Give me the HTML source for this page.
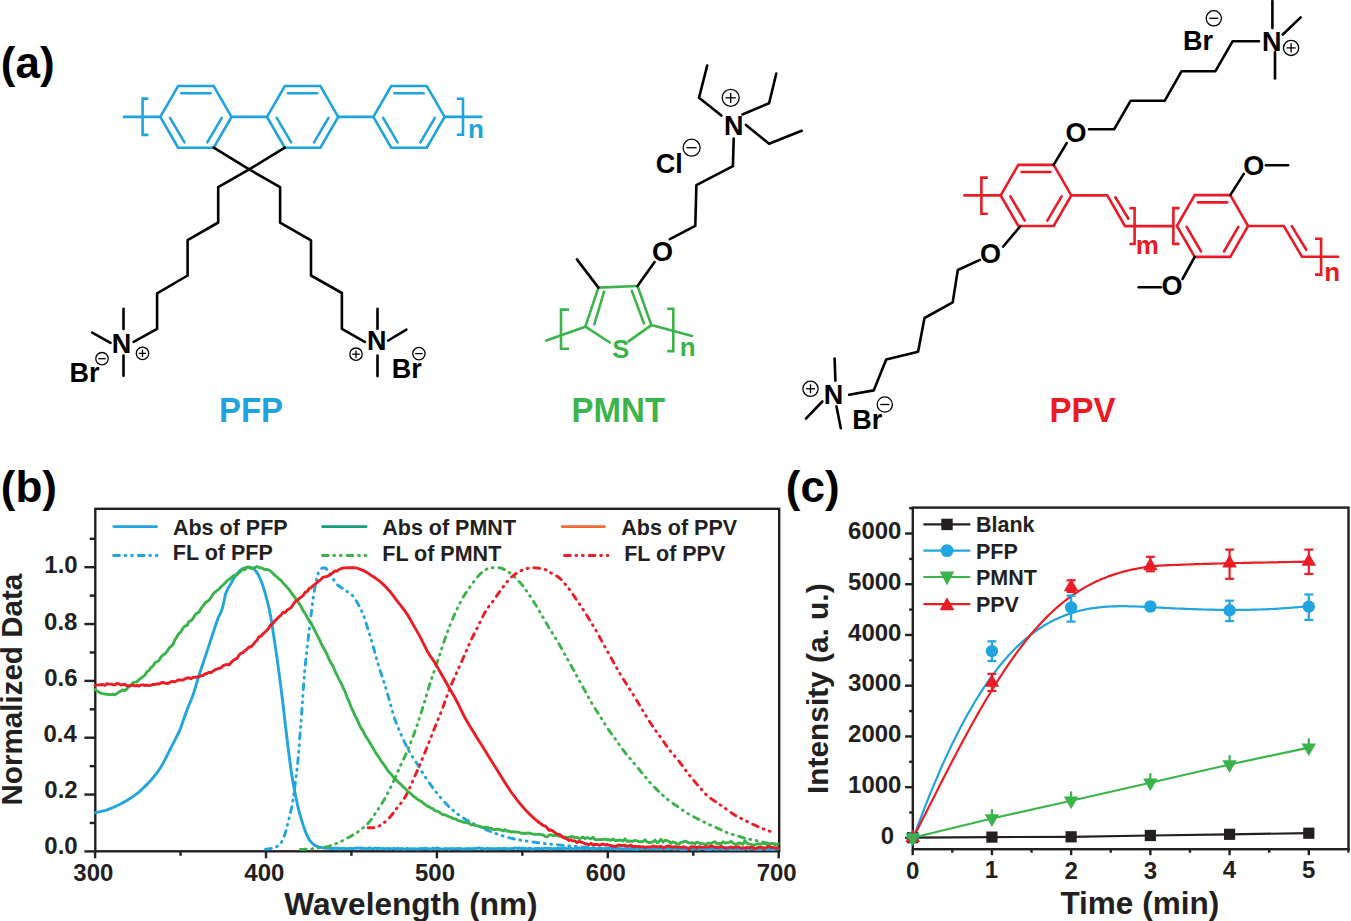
<!DOCTYPE html>
<html><head><meta charset="utf-8"><style>
html,body{margin:0;padding:0;background:#fff;width:1351px;height:921px;overflow:hidden}
svg{display:block}
</style></head><body>
<svg width="1351" height="921" viewBox="0 0 1351 921" font-family="'Liberation Sans', sans-serif" font-weight="bold">
<rect width="1351" height="921" fill="#fff"/>
<text x="0.81" y="78.28" font-size="44" fill="#000" >(a)</text>
<polygon points="160.30,116.90 178.10,86.07 213.70,86.07 231.50,116.90 213.70,147.73 178.10,147.73" fill="none" stroke="#1FA3DE" stroke-width="2.6" stroke-linejoin="miter" stroke-linecap="round"/>
<line x1="181.26" y1="93.23" x2="210.54" y2="93.23" stroke="#1FA3DE" stroke-width="2.6" stroke-linecap="round" />
<line x1="170.03" y1="117.80" x2="184.47" y2="142.37" stroke="#1FA3DE" stroke-width="2.6" stroke-linecap="round" />
<line x1="221.77" y1="117.80" x2="207.33" y2="142.37" stroke="#1FA3DE" stroke-width="2.6" stroke-linecap="round" />
<polygon points="267.00,116.90 284.80,86.07 320.40,86.07 338.20,116.90 320.40,147.73 284.80,147.73" fill="none" stroke="#1FA3DE" stroke-width="2.6" stroke-linejoin="miter" stroke-linecap="round"/>
<line x1="287.96" y1="93.23" x2="317.24" y2="93.23" stroke="#1FA3DE" stroke-width="2.6" stroke-linecap="round" />
<line x1="276.73" y1="117.80" x2="291.17" y2="142.37" stroke="#1FA3DE" stroke-width="2.6" stroke-linecap="round" />
<line x1="328.47" y1="117.80" x2="314.03" y2="142.37" stroke="#1FA3DE" stroke-width="2.6" stroke-linecap="round" />
<polygon points="373.40,116.90 391.20,86.07 426.80,86.07 444.60,116.90 426.80,147.73 391.20,147.73" fill="none" stroke="#1FA3DE" stroke-width="2.6" stroke-linejoin="miter" stroke-linecap="round"/>
<line x1="394.36" y1="93.23" x2="423.64" y2="93.23" stroke="#1FA3DE" stroke-width="2.6" stroke-linecap="round" />
<line x1="383.13" y1="117.80" x2="397.57" y2="142.37" stroke="#1FA3DE" stroke-width="2.6" stroke-linecap="round" />
<line x1="434.87" y1="117.80" x2="420.43" y2="142.37" stroke="#1FA3DE" stroke-width="2.6" stroke-linecap="round" />
<line x1="231.50" y1="116.90" x2="267.00" y2="116.90" stroke="#1FA3DE" stroke-width="2.6" stroke-linecap="round" />
<line x1="338.20" y1="116.90" x2="373.40" y2="116.90" stroke="#1FA3DE" stroke-width="2.6" stroke-linecap="round" />
<line x1="124.00" y1="116.90" x2="160.30" y2="116.90" stroke="#1FA3DE" stroke-width="2.6" stroke-linecap="round" />
<line x1="444.60" y1="116.90" x2="481.30" y2="116.90" stroke="#1FA3DE" stroke-width="2.6" stroke-linecap="round" />
<polyline points="148.40,98.60 142.60,98.60 142.60,134.90 148.40,134.90" fill="none" stroke="#1FA3DE" stroke-width="2.6" stroke-linejoin="miter" stroke-linecap="butt"/>
<polyline points="456.80,98.80 463.00,98.80 463.00,134.80 456.80,134.80" fill="none" stroke="#1FA3DE" stroke-width="2.6" stroke-linejoin="miter" stroke-linecap="butt"/>
<text x="467.99" y="138.20" font-size="26" fill="#1FA3DE" >n</text>
<polyline points="213.70,147.73 249.20,169.40 284.80,147.73" fill="none" stroke="#000" stroke-width="2.6" stroke-linejoin="round" stroke-linecap="round"/>
<polyline points="249.20,169.40 218.20,187.10 218.20,222.50 187.60,240.10 187.60,275.50 157.10,293.40 157.10,328.80 133.60,341.80" fill="none" stroke="#000" stroke-width="2.6" stroke-linejoin="round" stroke-linecap="round"/>
<polyline points="249.20,169.40 280.10,187.10 280.10,222.70 311.00,240.30 311.00,275.50 341.90,293.00 341.90,328.80 364.80,341.90" fill="none" stroke="#000" stroke-width="2.6" stroke-linejoin="round" stroke-linecap="round"/>
<text transform="translate(111.79,352.62) scale(1,1.04)" font-size="27" fill="#000" >N</text>
<line x1="123.50" y1="308.70" x2="123.50" y2="329.10" stroke="#000" stroke-width="2.6" stroke-linecap="round" />
<line x1="123.50" y1="355.60" x2="123.50" y2="375.70" stroke="#000" stroke-width="2.6" stroke-linecap="round" />
<line x1="92.20" y1="332.60" x2="110.50" y2="342.90" stroke="#000" stroke-width="2.6" stroke-linecap="round" />
<text x="69.49" y="382.48" font-size="27" fill="#000" >Br</text>
<circle cx="102.00" cy="358.70" r="6.2" fill="none" stroke="#000" stroke-width="1.3"/>
<line x1="98.28" y1="358.70" x2="105.72" y2="358.70" stroke="#000" stroke-width="1.3" stroke-linecap="butt" />
<circle cx="142.50" cy="353.40" r="6.2" fill="none" stroke="#000" stroke-width="1.3"/>
<line x1="138.78" y1="353.40" x2="146.22" y2="353.40" stroke="#000" stroke-width="1.3" stroke-linecap="butt" />
<line x1="142.50" y1="349.68" x2="142.50" y2="357.12" stroke="#000" stroke-width="1.3" stroke-linecap="butt" />
<text transform="translate(366.89,349.72) scale(1,1.04)" font-size="27" fill="#000" >N</text>
<line x1="377.50" y1="308.70" x2="377.50" y2="328.80" stroke="#000" stroke-width="2.6" stroke-linecap="round" />
<line x1="377.50" y1="355.60" x2="377.50" y2="376.10" stroke="#000" stroke-width="2.6" stroke-linecap="round" />
<line x1="388.20" y1="340.50" x2="406.40" y2="329.60" stroke="#000" stroke-width="2.6" stroke-linecap="round" />
<text x="391.69" y="378.28" font-size="27" fill="#000" >Br</text>
<circle cx="418.90" cy="353.60" r="6.2" fill="none" stroke="#000" stroke-width="1.3"/>
<line x1="415.18" y1="353.60" x2="422.62" y2="353.60" stroke="#000" stroke-width="1.3" stroke-linecap="butt" />
<circle cx="356.00" cy="354.20" r="6.2" fill="none" stroke="#000" stroke-width="1.3"/>
<line x1="352.28" y1="354.20" x2="359.72" y2="354.20" stroke="#000" stroke-width="1.3" stroke-linecap="butt" />
<line x1="356.00" y1="350.48" x2="356.00" y2="357.92" stroke="#000" stroke-width="1.3" stroke-linecap="butt" />
<text transform="translate(218.89,422.11) scale(1,1.04)" font-size="33" fill="#1FA3DE" >PFP</text>
<line x1="598.40" y1="287.60" x2="637.50" y2="286.00" stroke="#3BB44A" stroke-width="2.6" stroke-linecap="round" />
<line x1="598.40" y1="287.60" x2="585.40" y2="326.70" stroke="#3BB44A" stroke-width="2.6" stroke-linecap="round" />
<line x1="637.50" y1="286.00" x2="651.40" y2="325.10" stroke="#3BB44A" stroke-width="2.6" stroke-linecap="round" />
<line x1="585.40" y1="326.70" x2="609.80" y2="342.50" stroke="#3BB44A" stroke-width="2.6" stroke-linecap="round" />
<line x1="651.40" y1="325.10" x2="628.50" y2="341.40" stroke="#3BB44A" stroke-width="2.6" stroke-linecap="round" />
<line x1="604.10" y1="291.70" x2="594.30" y2="324.30" stroke="#3BB44A" stroke-width="2.6" stroke-linecap="round" />
<line x1="631.80" y1="290.90" x2="644.00" y2="323.40" stroke="#3BB44A" stroke-width="2.6" stroke-linecap="round" />
<line x1="585.40" y1="326.70" x2="546.30" y2="340.50" stroke="#3BB44A" stroke-width="2.6" stroke-linecap="round" />
<line x1="651.40" y1="325.10" x2="692.10" y2="336.00" stroke="#3BB44A" stroke-width="2.6" stroke-linecap="round" />
<polyline points="569.00,309.60 561.00,309.60 561.00,348.70 569.00,348.70" fill="none" stroke="#3BB44A" stroke-width="2.6" stroke-linejoin="miter" stroke-linecap="butt"/>
<polyline points="667.20,308.80 673.30,308.80 673.30,351.10 667.20,351.10" fill="none" stroke="#3BB44A" stroke-width="2.6" stroke-linejoin="miter" stroke-linecap="butt"/>
<text transform="translate(612.27,357.62) scale(1,1.04)" font-size="25.5" fill="#3BB44A" >S</text>
<text x="679.79" y="355.60" font-size="26" fill="#3BB44A" >n</text>
<line x1="598.40" y1="287.60" x2="576.90" y2="259.40" stroke="#000" stroke-width="2.6" stroke-linecap="round" />
<line x1="637.50" y1="286.00" x2="654.60" y2="262.00" stroke="#000" stroke-width="2.6" stroke-linecap="round" />
<text transform="translate(651.89,260.71) scale(1,1.04)" font-size="27" fill="#000" >O</text>
<polyline points="669.80,239.20 695.30,225.90 696.40,185.10 732.90,166.20 733.70,138.60" fill="none" stroke="#000" stroke-width="2.6" stroke-linejoin="round" stroke-linecap="round"/>
<text transform="translate(723.89,134.72) scale(1,1.04)" font-size="27" fill="#000" >N</text>
<circle cx="730.70" cy="97.80" r="8.5" fill="none" stroke="#000" stroke-width="1.3"/>
<line x1="725.60" y1="97.80" x2="735.80" y2="97.80" stroke="#000" stroke-width="1.3" stroke-linecap="butt" />
<line x1="730.70" y1="92.70" x2="730.70" y2="102.90" stroke="#000" stroke-width="1.3" stroke-linecap="butt" />
<polyline points="721.40,115.60 699.00,97.80 707.20,65.60" fill="none" stroke="#000" stroke-width="2.6" stroke-linejoin="round" stroke-linecap="round"/>
<polyline points="742.40,114.50 769.10,103.20 776.30,73.50" fill="none" stroke="#000" stroke-width="2.6" stroke-linejoin="round" stroke-linecap="round"/>
<polyline points="745.90,124.90 769.10,143.80 801.70,130.80" fill="none" stroke="#000" stroke-width="2.6" stroke-linejoin="round" stroke-linecap="round"/>
<text x="655.79" y="172.96" font-size="27" fill="#000" >Cl</text>
<circle cx="691.60" cy="147.70" r="8.5" fill="none" stroke="#000" stroke-width="1.3"/>
<line x1="686.50" y1="147.70" x2="696.70" y2="147.70" stroke="#000" stroke-width="1.3" stroke-linecap="butt" />
<text transform="translate(571.59,422.11) scale(1,1.04)" font-size="33" fill="#3BB44A" >PMNT</text>
<polygon points="1000.70,195.40 1018.35,164.83 1053.65,164.83 1071.30,195.40 1053.65,225.97 1018.35,225.97" fill="none" stroke="#EA1B25" stroke-width="2.6" stroke-linejoin="miter" stroke-linecap="round"/>
<line x1="1021.48" y1="171.93" x2="1050.52" y2="171.93" stroke="#EA1B25" stroke-width="2.6" stroke-linecap="round" />
<line x1="1010.35" y1="196.29" x2="1024.66" y2="220.66" stroke="#EA1B25" stroke-width="2.6" stroke-linecap="round" />
<line x1="1061.65" y1="196.29" x2="1047.34" y2="220.66" stroke="#EA1B25" stroke-width="2.6" stroke-linecap="round" />
<polygon points="1176.90,226.00 1194.70,195.17 1230.30,195.17 1248.10,226.00 1230.30,256.83 1194.70,256.83" fill="none" stroke="#EA1B25" stroke-width="2.6" stroke-linejoin="miter" stroke-linecap="round"/>
<line x1="1197.86" y1="202.33" x2="1227.14" y2="202.33" stroke="#EA1B25" stroke-width="2.6" stroke-linecap="round" />
<line x1="1186.63" y1="226.90" x2="1201.07" y2="251.47" stroke="#EA1B25" stroke-width="2.6" stroke-linecap="round" />
<line x1="1238.37" y1="226.90" x2="1223.93" y2="251.47" stroke="#EA1B25" stroke-width="2.6" stroke-linecap="round" />
<line x1="964.40" y1="195.40" x2="1000.70" y2="195.40" stroke="#EA1B25" stroke-width="2.6" stroke-linecap="round" />
<polyline points="987.80,177.60 981.40,177.60 981.40,213.80 987.80,213.80" fill="none" stroke="#EA1B25" stroke-width="2.6" stroke-linejoin="miter" stroke-linecap="butt"/>
<polyline points="1071.30,195.40 1107.30,195.40 1125.00,226.10 1172.50,226.10" fill="none" stroke="#EA1B25" stroke-width="2.6" stroke-linejoin="miter" stroke-linecap="round"/>
<line x1="1115.30" y1="197.30" x2="1128.40" y2="218.70" stroke="#EA1B25" stroke-width="2.6" stroke-linecap="round" />
<polyline points="1129.40,208.20 1134.60,208.20 1134.60,244.00 1129.40,244.00" fill="none" stroke="#EA1B25" stroke-width="2.6" stroke-linejoin="miter" stroke-linecap="butt"/>
<text x="1135.69" y="254.20" font-size="26" fill="#EA1B25" >m</text>
<polyline points="1179.50,208.10 1173.40,208.10 1173.40,243.90 1179.50,243.90" fill="none" stroke="#EA1B25" stroke-width="2.6" stroke-linejoin="miter" stroke-linecap="butt"/>
<polyline points="1248.10,226.00 1283.80,226.00 1302.00,256.70 1338.10,256.70" fill="none" stroke="#EA1B25" stroke-width="2.6" stroke-linejoin="miter" stroke-linecap="round"/>
<line x1="1291.80" y1="226.10" x2="1306.30" y2="249.80" stroke="#EA1B25" stroke-width="2.6" stroke-linecap="round" />
<polyline points="1315.00,238.70 1321.10,238.70 1321.10,274.60 1315.00,274.60" fill="none" stroke="#EA1B25" stroke-width="2.6" stroke-linejoin="miter" stroke-linecap="butt"/>
<text x="1324.29" y="281.00" font-size="26" fill="#EA1B25" >n</text>
<line x1="1053.65" y1="164.83" x2="1066.70" y2="143.10" stroke="#000" stroke-width="2.6" stroke-linecap="round" />
<text transform="translate(1065.59,141.91) scale(1,1.04)" font-size="27" fill="#000" >O</text>
<polyline points="1089.00,129.20 1114.20,129.20 1130.70,100.70 1164.80,100.70 1181.50,71.30 1215.30,71.30 1232.70,41.20 1259.00,41.20" fill="none" stroke="#000" stroke-width="2.6" stroke-linejoin="round" stroke-linecap="round"/>
<text transform="translate(1262.09,50.72) scale(1,1.04)" font-size="27" fill="#000" >N</text>
<line x1="1272.40" y1="1.10" x2="1272.40" y2="27.90" stroke="#000" stroke-width="2.6" stroke-linecap="round" />
<line x1="1275.00" y1="52.40" x2="1275.00" y2="78.40" stroke="#000" stroke-width="2.6" stroke-linecap="round" />
<line x1="1282.80" y1="34.50" x2="1300.70" y2="17.40" stroke="#000" stroke-width="2.6" stroke-linecap="round" />
<circle cx="1291.10" cy="47.90" r="7.6" fill="none" stroke="#000" stroke-width="1.3"/>
<line x1="1286.54" y1="47.90" x2="1295.66" y2="47.90" stroke="#000" stroke-width="1.3" stroke-linecap="butt" />
<line x1="1291.10" y1="43.34" x2="1291.10" y2="52.46" stroke="#000" stroke-width="1.3" stroke-linecap="butt" />
<text x="1182.99" y="49.98" font-size="27" fill="#000" >Br</text>
<circle cx="1213.80" cy="18.30" r="7.6" fill="none" stroke="#000" stroke-width="1.3"/>
<line x1="1209.24" y1="18.30" x2="1218.36" y2="18.30" stroke="#000" stroke-width="1.3" stroke-linecap="butt" />
<line x1="1019.85" y1="226.77" x2="1003.20" y2="246.50" stroke="#000" stroke-width="2.6" stroke-linecap="round" />
<text transform="translate(979.89,263.11) scale(1,1.04)" font-size="27" fill="#000" >O</text>
<polyline points="979.90,259.90 957.80,270.00 952.70,302.40 924.50,318.00 918.10,351.70 886.20,359.50 873.70,390.40 849.10,394.70" fill="none" stroke="#000" stroke-width="2.6" stroke-linejoin="round" stroke-linecap="round"/>
<text transform="translate(823.79,404.42) scale(1,1.04)" font-size="27" fill="#000" >N</text>
<line x1="834.60" y1="358.50" x2="835.40" y2="380.60" stroke="#000" stroke-width="2.6" stroke-linecap="round" />
<line x1="836.50" y1="406.40" x2="840.80" y2="428.30" stroke="#000" stroke-width="2.6" stroke-linecap="round" />
<line x1="822.30" y1="401.50" x2="806.00" y2="418.60" stroke="#000" stroke-width="2.6" stroke-linecap="round" />
<circle cx="810.50" cy="388.80" r="7.6" fill="none" stroke="#000" stroke-width="1.3"/>
<line x1="805.94" y1="388.80" x2="815.06" y2="388.80" stroke="#000" stroke-width="1.3" stroke-linecap="butt" />
<line x1="810.50" y1="384.24" x2="810.50" y2="393.36" stroke="#000" stroke-width="1.3" stroke-linecap="butt" />
<text x="852.29" y="429.48" font-size="27" fill="#000" >Br</text>
<circle cx="884.80" cy="404.50" r="7.6" fill="none" stroke="#000" stroke-width="1.3"/>
<line x1="880.24" y1="404.50" x2="889.36" y2="404.50" stroke="#000" stroke-width="1.3" stroke-linecap="butt" />
<line x1="1230.30" y1="195.17" x2="1243.80" y2="173.90" stroke="#000" stroke-width="2.6" stroke-linecap="round" />
<text transform="translate(1243.19,175.11) scale(1,1.04)" font-size="27" fill="#000" >O</text>
<line x1="1265.90" y1="165.20" x2="1288.10" y2="165.20" stroke="#000" stroke-width="2.6" stroke-linecap="round" />
<line x1="1194.70" y1="256.83" x2="1182.50" y2="279.00" stroke="#000" stroke-width="2.6" stroke-linecap="round" />
<text transform="translate(1161.59,295.01) scale(1,1.04)" font-size="27" fill="#000" >O</text>
<line x1="1138.70" y1="287.30" x2="1160.90" y2="287.30" stroke="#000" stroke-width="2.6" stroke-linecap="round" />
<text transform="translate(1049.59,422.11) scale(1,1.04)" font-size="33" fill="#EA1B25" >PPV</text>
<text x="0.81" y="501.78" font-size="44" fill="#000" >(b)</text>
<rect x="95.3" y="508.8" width="683.9000000000001" height="342.49999999999994" fill="none" stroke="#231F20" stroke-width="2.4"/>
<line x1="84.40" y1="851.40" x2="95.30" y2="851.40" stroke="#231F20" stroke-width="2.4" stroke-linecap="butt" />
<line x1="89.70" y1="822.98" x2="95.30" y2="822.98" stroke="#231F20" stroke-width="2.4" stroke-linecap="butt" />
<line x1="84.40" y1="794.56" x2="95.30" y2="794.56" stroke="#231F20" stroke-width="2.4" stroke-linecap="butt" />
<line x1="89.70" y1="766.14" x2="95.30" y2="766.14" stroke="#231F20" stroke-width="2.4" stroke-linecap="butt" />
<line x1="84.40" y1="737.72" x2="95.30" y2="737.72" stroke="#231F20" stroke-width="2.4" stroke-linecap="butt" />
<line x1="89.70" y1="709.30" x2="95.30" y2="709.30" stroke="#231F20" stroke-width="2.4" stroke-linecap="butt" />
<line x1="84.40" y1="680.88" x2="95.30" y2="680.88" stroke="#231F20" stroke-width="2.4" stroke-linecap="butt" />
<line x1="89.70" y1="652.46" x2="95.30" y2="652.46" stroke="#231F20" stroke-width="2.4" stroke-linecap="butt" />
<line x1="84.40" y1="624.04" x2="95.30" y2="624.04" stroke="#231F20" stroke-width="2.4" stroke-linecap="butt" />
<line x1="89.70" y1="595.62" x2="95.30" y2="595.62" stroke="#231F20" stroke-width="2.4" stroke-linecap="butt" />
<line x1="84.40" y1="567.20" x2="95.30" y2="567.20" stroke="#231F20" stroke-width="2.4" stroke-linecap="butt" />
<line x1="89.70" y1="538.78" x2="95.30" y2="538.78" stroke="#231F20" stroke-width="2.4" stroke-linecap="butt" />
<text x="44.32" y="854.16" font-size="24" fill="#231F20" >0.0</text>
<text x="44.30" y="798.16" font-size="24" fill="#231F20" >0.2</text>
<text x="43.47" y="742.26" font-size="24" fill="#231F20" >0.4</text>
<text x="44.20" y="686.26" font-size="24" fill="#231F20" >0.6</text>
<text x="44.08" y="629.66" font-size="24" fill="#231F20" >0.8</text>
<text x="44.32" y="573.26" font-size="24" fill="#231F20" >1.0</text>
<line x1="95.10" y1="851.30" x2="95.10" y2="858.30" stroke="#231F20" stroke-width="2.4" stroke-linecap="butt" />
<text x="73.30" y="881.16" font-size="24" fill="#231F20" >300</text>
<line x1="180.55" y1="851.30" x2="180.55" y2="855.80" stroke="#231F20" stroke-width="2.4" stroke-linecap="butt" />
<line x1="266.00" y1="851.30" x2="266.00" y2="858.30" stroke="#231F20" stroke-width="2.4" stroke-linecap="butt" />
<text x="244.29" y="881.16" font-size="24" fill="#231F20" >400</text>
<line x1="351.45" y1="851.30" x2="351.45" y2="855.80" stroke="#231F20" stroke-width="2.4" stroke-linecap="butt" />
<line x1="436.90" y1="851.30" x2="436.90" y2="858.30" stroke="#231F20" stroke-width="2.4" stroke-linecap="butt" />
<text x="415.00" y="881.16" font-size="24" fill="#231F20" >500</text>
<line x1="522.35" y1="851.30" x2="522.35" y2="855.80" stroke="#231F20" stroke-width="2.4" stroke-linecap="butt" />
<line x1="607.80" y1="851.30" x2="607.80" y2="858.30" stroke="#231F20" stroke-width="2.4" stroke-linecap="butt" />
<text x="585.83" y="881.16" font-size="24" fill="#231F20" >600</text>
<line x1="693.25" y1="851.30" x2="693.25" y2="855.80" stroke="#231F20" stroke-width="2.4" stroke-linecap="butt" />
<line x1="778.70" y1="851.30" x2="778.70" y2="858.30" stroke="#231F20" stroke-width="2.4" stroke-linecap="butt" />
<text x="756.66" y="881.16" font-size="24" fill="#231F20" >700</text>
<text x="284.27" y="914.50" font-size="31.6" fill="#231F20" >Wavelength (nm)</text>
<text transform="translate(21.7,803.6) rotate(-90)" x="-1.98" y="0" font-size="29.6" fill="#231F20">Normalized Data</text>
<line x1="113.80" y1="526.60" x2="156.60" y2="526.60" stroke="#21A5E0" stroke-width="2.7" stroke-linecap="round" />
<line x1="113.60" y1="555.50" x2="158.30" y2="555.50" stroke="#21A5E0" stroke-width="2.8" stroke-linecap="round" stroke-dasharray="5.8 5.6 0.9 5.6 0.9 5.9"/>
<line x1="322.50" y1="526.60" x2="366.10" y2="526.60" stroke="#12A07C" stroke-width="2.7" stroke-linecap="round" />
<line x1="322.40" y1="555.50" x2="367.40" y2="555.50" stroke="#3AB44A" stroke-width="2.8" stroke-linecap="round" stroke-dasharray="5.8 5.6 0.9 5.6 0.9 5.9"/>
<line x1="562.10" y1="526.60" x2="604.50" y2="526.60" stroke="#F26B3A" stroke-width="2.7" stroke-linecap="round" />
<line x1="564.50" y1="555.50" x2="608.30" y2="555.50" stroke="#EC1C24" stroke-width="2.8" stroke-linecap="round" stroke-dasharray="5.8 5.6 0.9 5.6 0.9 5.9"/>
<text x="172.96" y="534.78" font-size="21.5" fill="#231F20" >Abs of PFP</text>
<text x="172.86" y="560.38" font-size="21.5" fill="#231F20" >FL of PFP</text>
<text x="382.26" y="534.98" font-size="21.5" fill="#231F20" >Abs of PMNT</text>
<text x="382.26" y="560.58" font-size="21.5" fill="#231F20" >FL of PMNT</text>
<text x="621.26" y="534.98" font-size="21.5" fill="#231F20" >Abs of PPV</text>
<text x="624.16" y="560.58" font-size="21.5" fill="#231F20" >FL of PPV</text>
<g>
<path d="M95.0,812.6 L96.5,812.4 L98.0,812.1 L99.5,811.8 L101.0,811.4 L102.5,811.1 L104.0,810.7 L105.5,810.3 L107.0,809.8 L108.5,809.3 L110.0,808.7 L111.5,808.1 L113.0,807.5 L114.5,806.9 L116.0,806.2 L117.5,805.5 L119.0,804.8 L120.5,804.0 L122.0,803.2 L123.5,802.4 L125.0,801.6 L126.5,800.7 L128.0,799.8 L129.5,798.8 L131.0,797.9 L132.5,796.9 L134.0,795.8 L135.5,794.7 L137.0,793.6 L138.5,792.4 L140.0,791.1 L141.5,789.7 L143.0,788.3 L144.5,786.9 L146.0,785.4 L147.5,783.9 L149.0,782.3 L150.5,780.7 L152.0,778.9 L153.5,777.1 L155.0,775.3 L156.5,773.3 L158.0,771.3 L159.5,769.2 L161.0,766.9 L162.5,764.3 L164.0,761.6 L165.5,758.7 L167.0,755.7 L168.5,752.7 L170.0,749.7 L171.5,746.7 L173.0,743.8 L174.5,740.8 L176.0,737.9 L177.5,734.9 L179.0,731.9 L180.5,728.5 L182.0,724.2 L183.5,719.8 L185.0,715.5 L186.5,711.2 L188.0,707.3 L189.5,703.8 L191.0,700.3 L192.5,696.4 L194.0,691.9 L195.5,687.0 L197.0,681.9 L198.5,676.9 L200.0,672.2 L201.5,667.7 L203.0,663.3 L204.5,658.9 L206.0,654.4 L207.5,649.9 L209.0,645.4 L210.5,640.8 L212.0,636.3 L213.5,631.8 L215.0,627.1 L216.5,622.5 L218.0,618.3 L219.5,615.0 L221.0,612.1 L222.5,607.8 L224.0,601.4 L225.5,594.1 L227.0,590.4 L228.5,587.6 L230.0,585.2 L231.5,582.5 L233.0,579.8 L234.5,577.3 L236.0,575.2 L237.5,573.4 L239.0,571.6 L240.5,570.1 L242.0,569.0 L243.5,568.4 L245.0,567.8 L246.5,567.4 L248.0,567.3 L249.5,567.4 L251.0,567.5 L252.5,568.1 L254.0,569.3 L255.5,570.7 L257.0,572.7 L258.5,575.2 L260.0,578.3 L261.5,582.0 L263.0,586.1 L264.5,590.9 L266.0,596.3 L267.5,602.0 L269.0,608.1 L270.5,615.6 L272.0,624.3 L273.5,634.4 L275.0,644.5 L276.5,654.5 L278.0,665.2 L279.5,676.4 L281.0,688.1 L282.5,700.3 L284.0,713.0 L285.5,725.8 L287.0,738.4 L288.5,750.8 L290.0,762.5 L291.5,773.0 L293.0,782.2 L294.5,790.3 L296.0,797.8 L297.5,804.8 L299.0,811.1 L300.5,816.4 L302.0,821.3 L303.5,826.1 L305.0,830.5 L306.5,834.2 L308.0,837.5 L309.5,840.2 L311.0,842.0 L312.5,843.5 L314.0,844.8 L315.5,845.7 L317.0,846.3 L318.5,846.8 L320.0,847.2 L321.5,847.6 L323.0,847.8 L324.5,848.0 L326.0,848.1 L327.5,848.2 L329.0,848.3 L330.5,848.3 L332.0,848.5 L333.5,848.3 L335.0,848.2 L336.5,848.3 L338.0,848.2 L339.5,848.5 L341.0,849.0 L342.5,848.4 L344.0,848.3 L345.5,848.7 L347.0,848.7 L348.5,848.6 L350.0,848.2 L351.5,848.6 L353.0,848.8 L354.5,848.1 L356.0,848.4 L357.5,847.9 L359.0,848.2 L360.5,848.0 L362.0,848.5 L363.5,848.2 L365.0,848.7 L366.5,848.7 L368.0,848.6 L369.5,847.8 L371.0,848.5 L372.5,848.6 L374.0,848.7 L375.5,848.1 L377.0,848.5 L378.5,848.3 L380.0,848.4 L381.5,849.0 L383.0,848.4 L384.5,848.7 L386.0,849.0 L387.5,848.5 L389.0,848.6 L390.5,848.7 L392.0,848.7 L393.5,848.3 L395.0,848.7 L396.5,849.2 L398.0,848.2 L399.5,849.0 L401.0,848.7 L402.5,848.5 L404.0,849.4 L405.5,849.0 L407.0,848.3 L408.5,848.7 L410.0,848.9 L411.5,848.6 L413.0,848.9 L414.5,848.7 L416.0,848.9 L417.5,849.2 L419.0,848.5 L420.5,848.8 L422.0,848.5 L423.5,848.7 L425.0,848.3 L426.5,848.5 L428.0,848.6 L429.5,849.0 L431.0,849.1 L432.5,848.2 L434.0,848.4 L435.5,848.9 L437.0,848.0 L438.5,848.5 L440.0,848.7 L441.5,849.1 L443.0,848.9 L444.5,848.6 L446.0,848.6 L447.5,848.6 L449.0,849.2 L450.5,848.5 L452.0,848.6 L453.5,848.8 L455.0,848.6 L456.5,848.6 L458.0,848.3 L459.5,848.7 L461.0,848.5 L462.5,849.1 L464.0,848.9 L465.5,848.7 L467.0,848.9 L468.5,848.5 L470.0,849.0 L471.5,848.7 L473.0,848.9 L474.5,848.2 L476.0,848.8 L477.5,848.1 L479.0,847.9 L480.5,848.5 L482.0,848.3 L483.5,848.7 L485.0,849.4 L486.5,848.4 L488.0,848.4 L489.5,848.7 L491.0,848.8 L492.5,848.6 L494.0,848.6 L495.5,848.9 L497.0,848.8 L498.5,848.3 L500.0,848.6 L501.5,848.6 L503.0,848.3 L504.5,848.7 L506.0,848.3 L507.5,849.0 L509.0,848.7 L510.5,848.7 L512.0,848.4 L513.5,848.6 L515.0,847.9 L516.5,848.2 L518.0,848.7 L519.5,847.9 L521.0,848.9 L522.5,848.0 L524.0,848.9 L525.5,848.3 L527.0,848.9 L528.5,848.7 L530.0,848.1 L531.5,849.0 L533.0,849.1 L534.5,848.6 L536.0,848.5 L537.5,848.6 L539.0,848.3 L540.5,849.0 L542.0,848.4 L543.5,848.6 L545.0,848.3 L546.5,848.4 L548.0,848.2 L549.5,849.0 L551.0,848.5 L552.5,848.9 L554.0,848.6 L555.5,848.4 L557.0,848.5 L558.5,848.4 L560.0,848.6 L561.5,848.5 L563.0,848.5 L564.5,848.1 L566.0,848.3 L567.5,849.2 L569.0,848.4 L570.5,848.2 L572.0,848.7 L573.5,849.1 L575.0,848.1 L576.5,848.5 L578.0,848.4 L579.5,848.0 L581.0,848.9 L582.5,848.6 L584.0,848.6 L585.5,848.3 L587.0,848.8 L588.5,848.4 L590.0,848.6 L591.5,848.2 L593.0,848.2 L594.5,849.1 L596.0,848.4 L597.5,848.7 L599.0,848.6 L600.5,848.5 L602.0,848.4 L603.5,848.8 L605.0,848.5 L606.5,848.6 L608.0,848.6 L609.5,849.0 L611.0,848.9 L612.5,848.8 L614.0,848.4 L615.5,848.1 L617.0,849.0 L618.5,849.0 L620.0,848.6 L621.5,848.8 L623.0,848.9 L624.5,848.9 L626.0,849.0 L627.5,848.5 L629.0,849.2 L630.5,848.2 L632.0,849.0 L633.5,848.8 L635.0,849.0 L636.5,849.3 L638.0,849.2 L639.5,848.3 L641.0,848.1 L642.5,849.0 L644.0,848.3 L645.5,848.7 L647.0,849.0 L648.5,848.1 L650.0,847.9 L651.5,848.8 L653.0,848.7 L654.5,848.6 L656.0,848.7 L657.5,848.4 L659.0,848.2 L660.5,848.6 L662.0,848.4 L663.5,848.1 L665.0,848.9 L666.5,848.7 L668.0,848.8 L669.5,848.4 L671.0,848.5 L672.5,848.4 L674.0,848.4 L675.5,848.8 L677.0,848.5 L678.5,848.9 L680.0,848.9 L681.5,849.4 L683.0,848.3 L684.5,849.1 L686.0,848.7 L687.5,848.7 L689.0,848.2 L690.5,848.6 L692.0,849.0 L693.5,848.7 L695.0,848.8 L696.5,848.7 L698.0,849.2 L699.5,848.8 L701.0,848.0 L702.5,848.5 L704.0,848.1 L705.5,847.7 L707.0,848.6 L708.5,849.3 L710.0,848.8 L711.5,848.4 L713.0,848.5 L714.5,849.2 L716.0,848.9 L717.5,848.8 L719.0,848.8 L720.5,848.8 L722.0,849.1 L723.5,849.0 L725.0,848.9 L726.5,848.5 L728.0,849.0 L729.5,848.6 L731.0,849.2 L732.5,848.4 L734.0,848.8 L735.5,848.9 L737.0,848.4 L738.5,849.5 L740.0,849.4 L741.5,848.7 L743.0,849.2 L744.5,849.0 L746.0,848.0 L747.5,849.0 L749.0,848.9 L750.5,848.9 L752.0,848.5 L753.5,848.8 L755.0,848.9 L756.5,849.3 L758.0,849.1 L759.5,848.9 L761.0,849.5 L762.5,848.8 L764.0,848.8 L765.5,848.3 L767.0,849.5 L768.5,849.3 L770.0,849.3 L771.5,849.2 L773.0,849.0 L774.5,849.1 L776.0,848.9 L777.5,848.9 L778.0,849.0" fill="none" stroke="#21A5E0" stroke-width="2.9" stroke-linecap="round" stroke-linejoin="round" />
<path d="M265.6,849.1 L266.6,849.1 L267.6,849.0 L268.6,848.9 L269.6,848.8 L270.6,848.6 L271.6,848.4 L272.6,848.1 L273.6,847.9 L274.6,847.6 L275.6,847.2 L276.6,846.7 L277.6,846.1 L278.6,845.3 L279.6,844.3 L280.6,843.3 L281.6,842.1 L282.6,840.3 L283.6,837.9 L284.6,835.0 L285.6,832.0 L286.6,828.5 L287.6,824.5 L288.6,820.2 L289.6,816.0 L290.6,812.0 L291.6,807.6 L292.6,802.5 L293.6,795.9 L294.6,788.1 L295.6,780.4 L296.6,772.9 L297.6,764.4 L298.6,753.6 L299.6,740.7 L300.6,727.4 L301.6,713.8 L302.6,700.0 L303.6,685.4 L304.6,672.3 L305.6,662.0 L306.6,653.1 L307.6,644.2 L308.6,635.4 L309.6,626.8 L310.6,618.5 L311.6,610.3 L312.6,602.7 L313.6,595.4 L314.6,588.9 L315.6,583.6 L316.6,578.9 L317.6,574.9 L318.6,572.2 L319.6,570.4 L320.6,569.1 L321.6,568.5 L322.6,568.2 L323.6,567.9 L324.6,567.8 L325.6,568.1 L326.6,569.1 L327.6,570.4 L328.6,572.0 L329.6,573.5 L330.6,574.9 L331.6,576.4 L332.6,578.1 L333.6,579.7 L334.6,581.3 L335.6,582.8 L336.6,584.0 L337.6,584.9 L338.6,585.8 L339.6,586.5 L340.6,587.2 L341.6,587.8 L342.6,588.4 L343.6,589.1 L344.6,589.7 L345.6,590.4 L346.6,591.1 L347.6,591.8 L348.6,592.4 L349.6,593.1 L350.6,593.9 L351.6,594.7 L352.6,595.7 L353.6,596.9 L354.6,598.3 L355.6,599.8 L356.6,601.5 L357.6,603.2 L358.6,605.0 L359.6,606.8 L360.6,608.8 L361.6,610.9 L362.6,613.2 L363.6,615.7 L364.6,618.5 L365.6,621.5 L366.6,624.7 L367.6,627.9 L368.6,631.1 L369.6,634.3 L370.6,637.7 L371.6,641.0 L372.6,644.5 L373.6,648.0 L374.6,651.6 L375.6,655.3 L376.6,659.0 L377.6,662.6 L378.6,666.0 L379.6,669.2 L380.6,672.1 L381.6,675.0 L382.6,677.9 L383.6,681.0 L384.6,684.2 L385.6,687.4 L386.6,690.8 L387.6,694.2 L388.6,697.6 L389.6,701.1 L390.6,704.8 L391.6,708.5 L392.6,712.1 L393.6,715.5 L394.6,718.6 L395.6,721.4 L396.6,724.0 L397.6,726.5 L398.6,728.9 L399.6,731.3 L400.6,733.6 L401.6,735.8 L402.6,738.1 L403.6,740.2 L404.6,742.4 L405.6,744.4 L406.6,746.4 L407.6,748.4 L408.6,750.2 L409.6,752.0 L410.6,753.7 L411.6,755.3 L412.6,756.9 L413.6,758.4 L414.6,760.0 L415.6,761.5 L416.6,763.0 L417.6,764.6 L418.6,766.2 L419.6,767.9 L420.6,769.5 L421.6,771.1 L422.6,772.7 L423.6,774.3 L424.6,775.9 L425.6,777.4 L426.6,778.9 L427.6,780.4 L428.6,781.9 L429.6,783.3 L430.6,784.7 L431.6,786.1 L432.6,787.5 L433.6,788.9 L434.6,790.2 L435.6,791.5 L436.6,792.7 L437.6,794.0 L438.6,795.2 L439.6,796.4 L440.6,797.6 L441.6,798.8 L442.6,799.9 L443.6,801.0 L444.6,802.1 L445.6,803.2 L446.6,804.2 L447.6,805.2 L448.6,806.2 L449.6,807.2 L450.6,808.1 L451.6,809.1 L452.6,809.9 L453.6,810.8 L454.6,811.7 L455.6,812.5 L456.6,813.3 L457.6,814.1 L458.6,814.8 L459.6,815.6 L460.6,816.3 L461.6,816.9 L462.6,817.6 L463.6,818.2 L464.6,818.8 L465.6,819.4 L466.6,820.0 L467.6,820.5 L468.6,821.1 L469.6,821.7 L470.6,822.2 L471.6,822.7 L472.6,823.2 L473.6,823.7 L474.6,824.2 L475.6,824.7 L476.6,825.2 L477.6,825.7 L478.6,826.2 L479.6,826.7 L480.6,827.1 L481.6,827.6 L482.6,828.1 L483.6,828.5 L484.6,829.0 L485.6,829.4 L486.6,829.9 L487.6,830.3 L488.6,830.7 L489.6,831.1 L490.6,831.5 L491.6,831.9 L492.6,832.3 L493.6,832.7 L494.6,833.0 L495.6,833.4 L496.6,833.8 L497.6,834.1 L498.6,834.5 L499.6,834.9 L500.6,835.2 L501.6,835.6 L502.6,835.9 L503.6,836.2 L504.6,836.5 L505.6,836.8 L506.6,837.1 L507.6,837.3 L508.6,837.6 L509.6,837.8 L510.6,838.1 L511.6,838.3 L512.6,838.5 L513.6,838.8 L514.6,839.0 L515.6,839.2 L516.6,839.4 L517.6,839.6 L518.6,839.8 L519.6,840.0 L520.6,840.2 L521.6,840.4 L522.6,840.6 L523.6,840.7 L524.6,840.8 L525.6,841.0 L526.6,841.1 L527.6,841.2 L528.6,841.4 L529.6,841.5 L530.6,841.6 L531.6,841.8 L532.6,841.9 L533.6,842.1 L534.6,842.2 L535.6,842.3 L536.6,842.5 L537.6,842.6 L538.6,842.7 L539.6,842.9 L540.6,843.0 L541.6,843.1 L542.6,843.3 L543.6,843.4 L544.6,843.5 L545.6,843.7 L546.6,843.8 L547.6,843.9 L548.6,844.0 L549.6,844.1 L550.6,844.2 L551.6,844.3 L552.6,844.4 L553.6,844.5 L554.6,844.6 L555.6,844.7 L556.6,844.8 L557.6,844.9 L558.6,845.0 L559.6,845.1 L560.6,845.2 L561.6,845.3 L562.6,845.4 L563.6,845.5 L564.6,845.6 L565.6,845.7 L566.6,845.8 L567.6,845.8 L568.6,845.9 L569.6,846.0 L570.6,846.1 L571.6,846.2 L572.6,846.3 L573.6,846.4 L574.6,846.5 L575.6,846.5 L576.6,846.6 L577.6,846.7 L578.6,846.8 L579.6,846.8 L580.6,846.9 L581.6,847.0 L582.6,847.1 L583.6,847.1 L584.6,847.2 L585.6,847.3 L586.6,847.3 L587.6,847.4 L588.6,847.5 L589.6,847.5 L590.6,847.6 L591.6,847.6 L592.6,847.7 L593.6,847.7 L594.6,847.8 L595.6,847.8 L596.6,847.9 L597.6,847.9 L598.6,848.0 L599.6,848.0 L600.6,848.0 L601.6,848.1 L602.6,848.1 L603.6,848.1 L604.6,848.1 L605.6,848.2 L606.6,848.2 L607.6,848.2 L608.6,848.3 L609.6,848.3 L610.6,848.3 L611.6,848.3 L612.6,848.4 L613.6,848.4 L614.6,848.4 L615.6,848.4 L616.6,848.5 L617.6,848.5 L618.6,848.5 L619.6,848.5 L620.6,848.6 L621.6,848.6 L622.6,848.6 L623.6,848.6 L624.6,848.6 L625.6,848.7 L626.6,848.7 L627.6,848.7 L628.6,848.7 L629.6,848.7 L630.6,848.8 L631.6,848.8 L632.6,848.8 L633.6,848.8 L634.6,848.8 L635.6,848.8 L636.6,848.9 L637.6,848.9 L638.6,848.9 L639.6,848.9 L640.6,848.9 L641.6,848.9 L642.6,848.9 L643.6,848.9 L644.6,849.0 L645.6,849.0 L646.6,849.0 L647.6,849.0 L648.6,849.0 L649.6,849.0 L650.6,849.0 L651.6,849.0 L652.6,849.0 L653.6,849.0 L654.6,849.0 L655.6,849.0 L656.6,849.0 L657.6,849.1 L658.6,849.1 L659.6,849.1 L660.6,849.1 L661.6,849.1 L662.6,849.1 L663.6,849.1 L664.6,849.1 L665.6,849.1 L666.6,849.1 L667.6,849.1 L668.6,849.1 L669.6,849.1 L670.6,849.1 L671.6,849.1 L672.6,849.2 L673.6,849.2 L674.6,849.2 L675.6,849.2 L676.6,849.2 L677.6,849.2 L678.6,849.2 L679.6,849.2 L680.6,849.2 L681.6,849.2 L682.6,849.2 L683.6,849.2 L684.6,849.2 L685.6,849.2 L686.6,849.2 L687.6,849.2 L688.6,849.2 L689.6,849.3 L690.6,849.3 L691.6,849.3 L692.6,849.3 L693.6,849.3 L694.6,849.3 L695.6,849.3 L696.6,849.3 L697.6,849.3 L698.6,849.3 L699.6,849.3 L700.6,849.3 L701.6,849.3 L702.6,849.3 L703.6,849.3 L704.6,849.3 L705.6,849.3 L706.6,849.3 L707.6,849.3 L708.6,849.3 L709.6,849.3 L710.6,849.4 L711.6,849.4 L712.6,849.4 L713.6,849.4 L714.6,849.4 L715.6,849.4 L716.6,849.4 L717.6,849.4 L718.6,849.4 L719.6,849.4 L720.6,849.4 L721.6,849.4 L722.6,849.4 L723.6,849.4 L724.6,849.4 L725.6,849.4 L726.6,849.4 L727.6,849.4 L728.6,849.4 L729.6,849.4 L730.6,849.4 L731.6,849.4 L732.6,849.4 L733.6,849.4 L734.6,849.4 L735.6,849.4 L736.6,849.4 L737.6,849.4 L738.6,849.4 L739.6,849.5 L740.6,849.5 L741.6,849.5 L742.6,849.5 L743.6,849.5 L744.6,849.5 L745.6,849.5 L746.6,849.5 L747.6,849.5 L748.6,849.5 L749.6,849.5 L750.6,849.5 L751.6,849.5 L752.6,849.5 L753.6,849.5 L754.6,849.5 L755.6,849.5 L756.6,849.5 L757.6,849.5 L758.6,849.5 L759.6,849.5 L760.6,849.5 L761.6,849.5 L762.6,849.5 L763.6,849.5 L764.6,849.5 L765.6,849.5 L766.6,849.5 L767.6,849.5 L768.6,849.5 L769.6,849.5 L770.6,849.5 L771.6,849.5 L772.6,849.5 L773.6,849.5 L774.6,849.5 L775.6,849.5 L776.6,849.5 L777.6,849.5 L778.0,849.5" fill="none" stroke="#21A5E0" stroke-width="2.9" stroke-linecap="round" stroke-linejoin="round" stroke-dasharray="5.8 5.6 0.9 5.6 0.9 5.9" />
<path d="M300.4,849.4 L301.4,849.4 L302.4,849.4 L303.4,849.4 L304.4,849.3 L305.4,849.3 L306.4,849.2 L307.4,849.2 L308.4,849.1 L309.4,849.1 L310.4,849.0 L311.4,848.9 L312.4,848.8 L313.4,848.6 L314.4,848.5 L315.4,848.3 L316.4,848.2 L317.4,848.1 L318.4,847.9 L319.4,847.8 L320.4,847.7 L321.4,847.6 L322.4,847.4 L323.4,847.3 L324.4,847.1 L325.4,847.0 L326.4,846.8 L327.4,846.6 L328.4,846.3 L329.4,846.1 L330.4,845.7 L331.4,845.4 L332.4,845.1 L333.4,844.7 L334.4,844.3 L335.4,843.9 L336.4,843.5 L337.4,843.1 L338.4,842.7 L339.4,842.2 L340.4,841.7 L341.4,841.2 L342.4,840.7 L343.4,840.2 L344.4,839.7 L345.4,839.1 L346.4,838.6 L347.4,838.0 L348.4,837.5 L349.4,837.0 L350.4,836.4 L351.4,835.9 L352.4,835.3 L353.4,834.7 L354.4,834.1 L355.4,833.5 L356.4,832.9 L357.4,832.2 L358.4,831.5 L359.4,830.8 L360.4,830.1 L361.4,829.3 L362.4,828.5 L363.4,827.7 L364.4,826.9 L365.4,826.0 L366.4,825.0 L367.4,824.0 L368.4,823.0 L369.4,821.8 L370.4,820.6 L371.4,819.2 L372.4,817.8 L373.4,816.3 L374.4,814.8 L375.4,813.3 L376.4,811.8 L377.4,810.3 L378.4,808.8 L379.4,807.3 L380.4,805.7 L381.4,804.2 L382.4,802.6 L383.4,800.9 L384.4,799.2 L385.4,797.5 L386.4,795.7 L387.4,793.8 L388.4,791.9 L389.4,789.9 L390.4,787.9 L391.4,785.8 L392.4,783.7 L393.4,781.6 L394.4,779.5 L395.4,777.3 L396.4,775.0 L397.4,772.7 L398.4,770.4 L399.4,768.1 L400.4,765.8 L401.4,763.6 L402.4,761.5 L403.4,759.5 L404.4,757.3 L405.4,755.2 L406.4,752.9 L407.4,750.6 L408.4,748.3 L409.4,745.9 L410.4,743.4 L411.4,740.9 L412.4,738.3 L413.4,735.6 L414.4,732.9 L415.4,730.1 L416.4,727.2 L417.4,724.3 L418.4,721.3 L419.4,718.2 L420.4,715.1 L421.4,712.0 L422.4,708.8 L423.4,705.5 L424.4,702.2 L425.4,698.8 L426.4,695.4 L427.4,692.0 L428.4,688.7 L429.4,685.4 L430.4,682.3 L431.4,679.3 L432.4,676.3 L433.4,673.3 L434.4,670.4 L435.4,667.4 L436.4,664.5 L437.4,661.5 L438.4,658.5 L439.4,655.6 L440.4,652.6 L441.4,649.6 L442.4,646.5 L443.4,643.5 L444.4,640.5 L445.4,637.6 L446.4,634.8 L447.4,632.1 L448.4,629.4 L449.4,626.8 L450.4,624.3 L451.4,621.8 L452.4,619.4 L453.4,617.1 L454.4,614.8 L455.4,612.5 L456.4,610.4 L457.4,608.2 L458.4,606.1 L459.4,604.0 L460.4,602.1 L461.4,600.2 L462.4,598.4 L463.4,596.7 L464.4,595.1 L465.4,593.6 L466.4,592.2 L467.4,590.8 L468.4,589.4 L469.4,587.9 L470.4,586.5 L471.4,585.0 L472.4,583.6 L473.4,582.1 L474.4,580.7 L475.4,579.4 L476.4,578.2 L477.4,577.1 L478.4,575.9 L479.4,574.8 L480.4,573.8 L481.4,572.9 L482.4,572.0 L483.4,571.3 L484.4,570.6 L485.4,569.9 L486.4,569.2 L487.4,568.7 L488.4,568.2 L489.4,567.9 L490.4,567.8 L491.4,567.8 L492.4,567.8 L493.4,567.8 L494.4,567.8 L495.4,567.8 L496.4,567.8 L497.4,567.8 L498.4,567.8 L499.4,567.8 L500.4,568.0 L501.4,568.2 L502.4,568.6 L503.4,569.1 L504.4,569.6 L505.4,570.1 L506.4,570.6 L507.4,571.2 L508.4,571.9 L509.4,572.7 L510.4,573.5 L511.4,574.3 L512.4,575.2 L513.4,576.0 L514.4,576.9 L515.4,577.8 L516.4,578.8 L517.4,579.8 L518.4,580.8 L519.4,581.8 L520.4,582.9 L521.4,584.1 L522.4,585.3 L523.4,586.5 L524.4,587.9 L525.4,589.3 L526.4,590.7 L527.4,592.2 L528.4,593.7 L529.4,595.2 L530.4,596.6 L531.4,598.2 L532.4,599.7 L533.4,601.3 L534.4,602.9 L535.4,604.5 L536.4,606.1 L537.4,607.7 L538.4,609.4 L539.4,611.1 L540.4,612.8 L541.4,614.5 L542.4,616.3 L543.4,618.0 L544.4,619.8 L545.4,621.5 L546.4,623.3 L547.4,625.0 L548.4,626.7 L549.4,628.3 L550.4,629.9 L551.4,631.5 L552.4,633.1 L553.4,634.7 L554.4,636.3 L555.4,637.9 L556.4,639.6 L557.4,641.2 L558.4,642.9 L559.4,644.6 L560.4,646.4 L561.4,648.1 L562.4,649.9 L563.4,651.7 L564.4,653.6 L565.4,655.4 L566.4,657.2 L567.4,659.0 L568.4,660.8 L569.4,662.6 L570.4,664.4 L571.4,666.2 L572.4,668.0 L573.4,669.8 L574.4,671.6 L575.4,673.4 L576.4,675.2 L577.4,677.1 L578.4,678.9 L579.4,680.7 L580.4,682.5 L581.4,684.3 L582.4,686.1 L583.4,688.0 L584.4,689.8 L585.4,691.6 L586.4,693.4 L587.4,695.2 L588.4,697.1 L589.4,698.9 L590.4,700.7 L591.4,702.5 L592.4,704.2 L593.4,705.9 L594.4,707.5 L595.4,709.0 L596.4,710.6 L597.4,712.1 L598.4,713.6 L599.4,715.2 L600.4,716.8 L601.4,718.4 L602.4,720.0 L603.4,721.7 L604.4,723.3 L605.4,724.9 L606.4,726.4 L607.4,727.9 L608.4,729.4 L609.4,730.9 L610.4,732.3 L611.4,733.7 L612.4,735.0 L613.4,736.4 L614.4,737.8 L615.4,739.2 L616.4,740.6 L617.4,742.0 L618.4,743.4 L619.4,744.8 L620.4,746.2 L621.4,747.6 L622.4,749.0 L623.4,750.4 L624.4,751.7 L625.4,753.0 L626.4,754.2 L627.4,755.4 L628.4,756.6 L629.4,757.8 L630.4,759.0 L631.4,760.1 L632.4,761.3 L633.4,762.5 L634.4,763.7 L635.4,764.9 L636.4,766.1 L637.4,767.3 L638.4,768.5 L639.4,769.7 L640.4,771.0 L641.4,772.2 L642.4,773.4 L643.4,774.6 L644.4,775.8 L645.4,777.0 L646.4,778.3 L647.4,779.5 L648.4,780.7 L649.4,781.8 L650.4,783.0 L651.4,784.0 L652.4,785.1 L653.4,786.1 L654.4,787.2 L655.4,788.1 L656.4,789.1 L657.4,790.1 L658.4,791.1 L659.4,792.0 L660.4,793.0 L661.4,793.9 L662.4,794.9 L663.4,795.8 L664.4,796.7 L665.4,797.6 L666.4,798.5 L667.4,799.3 L668.4,800.1 L669.4,800.9 L670.4,801.6 L671.4,802.3 L672.4,803.0 L673.4,803.7 L674.4,804.4 L675.4,805.0 L676.4,805.7 L677.4,806.4 L678.4,807.1 L679.4,807.9 L680.4,808.6 L681.4,809.3 L682.4,810.0 L683.4,810.7 L684.4,811.4 L685.4,812.0 L686.4,812.7 L687.4,813.3 L688.4,813.9 L689.4,814.5 L690.4,815.1 L691.4,815.6 L692.4,816.2 L693.4,816.7 L694.4,817.2 L695.4,817.7 L696.4,818.2 L697.4,818.7 L698.4,819.2 L699.4,819.7 L700.4,820.1 L701.4,820.7 L702.4,821.2 L703.4,821.7 L704.4,822.2 L705.4,822.7 L706.4,823.2 L707.4,823.7 L708.4,824.2 L709.4,824.7 L710.4,825.1 L711.4,825.6 L712.4,826.0 L713.4,826.4 L714.4,826.9 L715.4,827.3 L716.4,827.7 L717.4,828.2 L718.4,828.6 L719.4,829.1 L720.4,829.5 L721.4,830.0 L722.4,830.5 L723.4,831.0 L724.4,831.5 L725.4,831.9 L726.4,832.4 L727.4,832.8 L728.4,833.1 L729.4,833.5 L730.4,833.8 L731.4,834.1 L732.4,834.4 L733.4,834.7 L734.4,835.0 L735.4,835.3 L736.4,835.6 L737.4,835.9 L738.4,836.2 L739.4,836.5 L740.4,836.8 L741.4,837.1 L742.4,837.5 L743.4,837.8 L744.4,838.1 L745.4,838.3 L746.4,838.6 L747.4,838.8 L748.4,839.0 L749.4,839.2 L750.4,839.4 L751.4,839.6 L752.4,839.8 L753.4,839.9 L754.4,840.1 L755.4,840.3 L756.4,840.6 L757.4,840.8 L758.4,841.0 L759.4,841.3 L760.4,841.5 L761.4,841.7 L762.4,842.0 L763.4,842.2 L764.4,842.4 L765.4,842.6 L766.4,842.8 L767.4,843.1 L768.4,843.3 L769.4,843.5 L770.4,843.7 L771.4,843.9 L772.4,844.1 L773.4,844.3 L774.4,844.5 L775.4,844.7 L776.4,844.9 L777.4,845.1 L778.0,845.2" fill="none" stroke="#3AB44A" stroke-width="2.9" stroke-linecap="round" stroke-linejoin="round" stroke-dasharray="5.8 5.6 0.9 5.6 0.9 5.9" />
<path d="M368.1,827.7 L369.1,827.7 L370.1,827.7 L371.1,827.7 L372.1,827.7 L373.1,827.7 L374.1,827.7 L375.1,827.7 L376.1,827.6 L377.1,827.3 L378.1,826.8 L379.1,826.2 L380.1,825.5 L381.1,824.8 L382.1,824.1 L383.1,823.4 L384.1,822.7 L385.1,821.8 L386.1,820.9 L387.1,820.0 L388.1,819.0 L389.1,818.0 L390.1,816.9 L391.1,815.7 L392.1,814.5 L393.1,813.2 L394.1,811.8 L395.1,810.5 L396.1,809.2 L397.1,808.0 L398.1,806.8 L399.1,805.6 L400.1,804.3 L401.1,803.0 L402.1,801.6 L403.1,800.2 L404.1,798.7 L405.1,797.0 L406.1,795.3 L407.1,793.4 L408.1,791.4 L409.1,789.3 L410.1,787.0 L411.1,784.7 L412.1,782.4 L413.1,780.0 L414.1,777.7 L415.1,775.5 L416.1,773.3 L417.1,771.0 L418.1,768.8 L419.1,766.5 L420.1,764.1 L421.1,761.8 L422.1,759.4 L423.1,756.9 L424.1,754.5 L425.1,752.0 L426.1,749.5 L427.1,747.0 L428.1,744.5 L429.1,741.9 L430.1,739.4 L431.1,736.9 L432.1,734.4 L433.1,731.8 L434.1,729.3 L435.1,726.8 L436.1,724.3 L437.1,721.9 L438.1,719.4 L439.1,717.0 L440.1,714.5 L441.1,711.9 L442.1,709.4 L443.1,706.7 L444.1,703.9 L445.1,701.1 L446.1,698.3 L447.1,695.5 L448.1,692.8 L449.1,690.1 L450.1,687.5 L451.1,685.1 L452.1,682.8 L453.1,680.5 L454.1,678.3 L455.1,676.1 L456.1,673.9 L457.1,671.6 L458.1,669.4 L459.1,667.2 L460.1,665.0 L461.1,662.7 L462.1,660.5 L463.1,658.3 L464.1,656.1 L465.1,653.8 L466.1,651.5 L467.1,649.1 L468.1,646.8 L469.1,644.5 L470.1,642.3 L471.1,640.1 L472.1,638.0 L473.1,636.0 L474.1,634.0 L475.1,632.1 L476.1,630.1 L477.1,628.2 L478.1,626.2 L479.1,624.2 L480.1,622.1 L481.1,619.9 L482.1,617.8 L483.1,615.8 L484.1,613.9 L485.1,612.1 L486.1,610.5 L487.1,609.0 L488.1,607.6 L489.1,606.2 L490.1,604.9 L491.1,603.6 L492.1,602.3 L493.1,601.0 L494.1,599.6 L495.1,598.2 L496.1,596.7 L497.1,595.3 L498.1,593.9 L499.1,592.4 L500.1,591.0 L501.1,589.7 L502.1,588.3 L503.1,587.0 L504.1,585.7 L505.1,584.4 L506.1,583.1 L507.1,581.8 L508.1,580.6 L509.1,579.5 L510.1,578.4 L511.1,577.5 L512.1,576.6 L513.1,575.8 L514.1,575.0 L515.1,574.2 L516.1,573.5 L517.1,572.8 L518.1,572.1 L519.1,571.5 L520.1,571.0 L521.1,570.6 L522.1,570.2 L523.1,569.9 L524.1,569.5 L525.1,569.2 L526.1,568.8 L527.1,568.5 L528.1,568.3 L529.1,568.1 L530.1,567.9 L531.1,567.8 L532.1,567.8 L533.1,567.8 L534.1,567.8 L535.1,567.9 L536.1,568.0 L537.1,568.0 L538.1,568.1 L539.1,568.2 L540.1,568.4 L541.1,568.5 L542.1,568.6 L543.1,568.8 L544.1,569.1 L545.1,569.5 L546.1,570.0 L547.1,570.6 L548.1,571.2 L549.1,571.8 L550.1,572.4 L551.1,573.0 L552.1,573.5 L553.1,574.0 L554.1,574.6 L555.1,575.1 L556.1,575.7 L557.1,576.3 L558.1,577.0 L559.1,577.7 L560.1,578.6 L561.1,579.5 L562.1,580.6 L563.1,581.7 L564.1,582.9 L565.1,584.1 L566.1,585.3 L567.1,586.5 L568.1,587.8 L569.1,589.1 L570.1,590.4 L571.1,591.8 L572.1,593.3 L573.1,594.7 L574.1,596.2 L575.1,597.6 L576.1,599.1 L577.1,600.6 L578.1,602.0 L579.1,603.5 L580.1,605.0 L581.1,606.6 L582.1,608.1 L583.1,609.6 L584.1,611.2 L585.1,612.7 L586.1,614.3 L587.1,615.8 L588.1,617.4 L589.1,619.0 L590.1,620.6 L591.1,622.2 L592.1,623.8 L593.1,625.5 L594.1,627.2 L595.1,628.9 L596.1,630.7 L597.1,632.5 L598.1,634.4 L599.1,636.2 L600.1,638.1 L601.1,639.9 L602.1,641.7 L603.1,643.5 L604.1,645.3 L605.1,647.1 L606.1,648.9 L607.1,650.7 L608.1,652.5 L609.1,654.3 L610.1,656.0 L611.1,657.8 L612.1,659.6 L613.1,661.5 L614.1,663.3 L615.1,665.1 L616.1,666.9 L617.1,668.7 L618.1,670.5 L619.1,672.2 L620.1,673.9 L621.1,675.6 L622.1,677.2 L623.1,678.8 L624.1,680.3 L625.1,681.9 L626.1,683.5 L627.1,685.1 L628.1,686.6 L629.1,688.2 L630.1,689.8 L631.1,691.4 L632.1,693.0 L633.1,694.6 L634.1,696.2 L635.1,697.8 L636.1,699.4 L637.1,701.0 L638.1,702.7 L639.1,704.3 L640.1,706.0 L641.1,707.7 L642.1,709.4 L643.1,711.1 L644.1,712.7 L645.1,714.3 L646.1,716.0 L647.1,717.6 L648.1,719.2 L649.1,720.8 L650.1,722.4 L651.1,724.0 L652.1,725.5 L653.1,727.0 L654.1,728.4 L655.1,729.8 L656.1,731.2 L657.1,732.6 L658.1,733.9 L659.1,735.3 L660.1,736.7 L661.1,738.1 L662.1,739.5 L663.1,740.9 L664.1,742.3 L665.1,743.8 L666.1,745.2 L667.1,746.6 L668.1,748.0 L669.1,749.4 L670.1,750.7 L671.1,751.9 L672.1,753.1 L673.1,754.3 L674.1,755.5 L675.1,756.6 L676.1,757.8 L677.1,759.0 L678.1,760.2 L679.1,761.4 L680.1,762.7 L681.1,764.1 L682.1,765.4 L683.1,766.8 L684.1,768.1 L685.1,769.5 L686.1,770.8 L687.1,772.2 L688.1,773.5 L689.1,774.8 L690.1,776.0 L691.1,777.3 L692.1,778.5 L693.1,779.7 L694.1,780.9 L695.1,782.1 L696.1,783.2 L697.1,784.4 L698.1,785.5 L699.1,786.7 L700.1,787.9 L701.1,789.0 L702.1,790.2 L703.1,791.4 L704.1,792.5 L705.1,793.6 L706.1,794.6 L707.1,795.6 L708.1,796.4 L709.1,797.2 L710.1,798.0 L711.1,798.7 L712.1,799.4 L713.1,800.1 L714.1,800.7 L715.1,801.4 L716.1,802.0 L717.1,802.7 L718.1,803.4 L719.1,804.1 L720.1,804.8 L721.1,805.5 L722.1,806.2 L723.1,806.9 L724.1,807.6 L725.1,808.3 L726.1,809.0 L727.1,809.7 L728.1,810.4 L729.1,811.2 L730.1,811.9 L731.1,812.6 L732.1,813.4 L733.1,814.0 L734.1,814.7 L735.1,815.3 L736.1,815.9 L737.1,816.4 L738.1,817.0 L739.1,817.5 L740.1,817.9 L741.1,818.4 L742.1,818.9 L743.1,819.4 L744.1,819.9 L745.1,820.4 L746.1,820.9 L747.1,821.4 L748.1,821.9 L749.1,822.4 L750.1,822.9 L751.1,823.4 L752.1,823.9 L753.1,824.4 L754.1,824.8 L755.1,825.3 L756.1,825.8 L757.1,826.2 L758.1,826.7 L759.1,827.1 L760.1,827.6 L761.1,828.0 L762.1,828.4 L763.1,828.8 L764.1,829.2 L765.1,829.6 L766.1,829.9 L767.1,830.3 L768.1,830.7 L769.1,831.0 L770.1,831.3 L771.1,831.7 L772.1,832.0 L773.1,832.4 L774.1,832.7" fill="none" stroke="#EC1C24" stroke-width="2.9" stroke-linecap="round" stroke-linejoin="round" stroke-dasharray="5.8 5.6 0.9 5.6 0.9 5.9" />
<path d="M95.0,689.4 L97.0,690.9 L99.0,692.2 L101.0,693.1 L103.0,693.6 L105.0,694.0 L107.0,694.4 L109.0,694.5 L111.0,694.6 L113.0,694.3 L115.0,694.9 L117.0,693.4 L119.0,692.1 L121.0,690.9 L123.0,689.9 L125.0,690.6 L127.0,688.6 L129.0,686.7 L131.0,684.8 L133.0,682.7 L135.0,682.2 L137.0,681.8 L139.0,679.5 L141.0,678.2 L143.0,676.6 L145.0,675.1 L147.0,671.7 L149.0,670.5 L151.0,667.4 L153.0,666.2 L155.0,662.6 L157.0,661.7 L159.0,660.5 L161.0,657.0 L163.0,654.9 L165.0,653.7 L167.0,651.4 L169.0,648.2 L171.0,646.4 L173.0,644.4 L175.0,639.6 L177.0,636.8 L179.0,633.3 L181.0,631.8 L183.0,628.1 L185.0,625.9 L187.0,625.6 L189.0,621.5 L191.0,620.7 L193.0,618.5 L195.0,615.0 L197.0,613.1 L199.0,612.2 L201.0,608.5 L203.0,606.1 L205.0,603.0 L207.0,601.5 L209.0,600.2 L211.0,597.6 L213.0,594.0 L215.0,592.2 L217.0,590.5 L219.0,589.1 L221.0,586.7 L223.0,585.0 L225.0,583.2 L227.0,580.9 L229.0,579.4 L231.0,578.0 L233.0,576.1 L235.0,575.1 L237.0,574.8 L239.0,572.6 L241.0,571.1 L243.0,568.8 L245.0,569.7 L247.0,567.1 L249.0,567.0 L251.0,568.5 L253.0,568.4 L255.0,567.7 L257.0,566.4 L259.0,567.5 L261.0,567.7 L263.0,568.6 L265.0,569.6 L267.0,569.5 L269.0,570.1 L271.0,571.4 L273.0,573.6 L275.0,575.5 L277.0,576.9 L279.0,579.0 L281.0,580.3 L283.0,583.0 L285.0,585.0 L287.0,587.3 L289.0,589.4 L291.0,592.4 L293.0,595.0 L295.0,597.7 L297.0,600.7 L299.0,603.4 L301.0,606.4 L303.0,610.4 L305.0,613.4 L307.0,616.9 L309.0,620.5 L311.0,623.0 L313.0,626.8 L315.0,630.9 L317.0,634.9 L319.0,638.6 L321.0,643.2 L323.0,647.0 L325.0,650.5 L327.0,654.5 L329.0,659.1 L331.0,663.0 L333.0,666.1 L335.0,671.3 L337.0,675.0 L339.0,679.4 L341.0,682.9 L343.0,687.3 L345.0,691.4 L347.0,697.3 L349.0,701.2 L351.0,706.8 L353.0,710.9 L355.0,715.7 L357.0,719.4 L359.0,723.9 L361.0,728.1 L363.0,730.9 L365.0,735.2 L367.0,738.3 L369.0,741.2 L371.0,744.7 L373.0,748.1 L375.0,751.6 L377.0,754.6 L379.0,757.6 L381.0,760.8 L383.0,763.4 L385.0,766.1 L387.0,769.2 L389.0,772.1 L391.0,773.8 L393.0,776.7 L395.0,778.7 L397.0,780.6 L399.0,783.1 L401.0,784.3 L403.0,786.8 L405.0,788.1 L407.0,790.6 L409.0,792.3 L411.0,793.8 L413.0,795.9 L415.0,797.2 L417.0,798.9 L419.0,800.2 L421.0,801.2 L423.0,803.0 L425.0,804.4 L427.0,806.0 L429.0,806.6 L431.0,808.2 L433.0,808.7 L435.0,810.7 L437.0,811.2 L439.0,812.0 L441.0,813.6 L443.0,814.9 L445.0,814.8 L447.0,815.8 L449.0,816.7 L451.0,817.3 L453.0,818.6 L455.0,818.9 L457.0,819.7 L459.0,820.9 L461.0,821.1 L463.0,822.2 L465.0,822.3 L467.0,822.8 L469.0,823.1 L471.0,824.9 L473.0,824.7 L475.0,825.3 L477.0,825.7 L479.0,826.2 L481.0,826.7 L483.0,827.8 L485.0,827.2 L487.0,827.5 L489.0,828.0 L491.0,828.2 L493.0,829.3 L495.0,829.6 L497.0,829.3 L499.0,829.4 L501.0,830.0 L503.0,830.9 L505.0,829.7 L507.0,831.2 L509.0,831.0 L511.0,832.1 L513.0,831.6 L515.0,832.1 L517.0,831.9 L519.0,832.3 L521.0,833.3 L523.0,833.3 L525.0,833.1 L527.0,833.2 L529.0,833.0 L531.0,833.7 L533.0,834.1 L535.0,834.2 L537.0,834.4 L539.0,834.2 L541.0,834.7 L543.0,834.8 L545.0,836.3 L547.0,837.0 L549.0,835.2 L551.0,834.7 L553.0,835.7 L555.0,835.3 L557.0,835.4 L559.0,836.3 L561.0,835.6 L563.0,837.4 L565.0,836.9 L567.0,837.4 L569.0,837.2 L571.0,836.8 L573.0,836.7 L575.0,837.6 L577.0,837.4 L579.0,838.4 L581.0,838.3 L583.0,837.1 L585.0,838.7 L587.0,837.4 L589.0,838.3 L591.0,838.8 L593.0,837.2 L595.0,839.5 L597.0,839.8 L599.0,839.6 L601.0,839.4 L603.0,839.6 L605.0,839.0 L607.0,839.8 L609.0,839.6 L611.0,840.3 L613.0,839.0 L615.0,840.5 L617.0,840.5 L619.0,840.2 L621.0,840.0 L623.0,841.1 L625.0,838.9 L627.0,841.2 L629.0,841.0 L631.0,841.2 L633.0,841.3 L635.0,840.4 L637.0,840.8 L639.0,841.8 L641.0,841.7 L643.0,841.5 L645.0,839.8 L647.0,841.9 L649.0,842.6 L651.0,842.5 L653.0,841.8 L655.0,840.1 L657.0,842.6 L659.0,841.6 L661.0,839.3 L663.0,842.2 L665.0,840.4 L667.0,840.7 L669.0,841.4 L671.0,843.4 L673.0,841.8 L675.0,842.5 L677.0,844.0 L679.0,843.9 L681.0,842.2 L683.0,842.1 L685.0,841.1 L687.0,841.8 L689.0,842.9 L691.0,843.0 L693.0,842.8 L695.0,843.7 L697.0,842.1 L699.0,842.9 L701.0,843.8 L703.0,843.7 L705.0,844.3 L707.0,843.6 L709.0,843.0 L711.0,843.7 L713.0,842.3 L715.0,841.7 L717.0,843.9 L719.0,843.3 L721.0,843.7 L723.0,841.7 L725.0,843.1 L727.0,842.8 L729.0,842.6 L731.0,841.2 L733.0,843.1 L735.0,844.4 L737.0,843.9 L739.0,842.9 L741.0,843.5 L743.0,844.3 L745.0,840.8 L747.0,843.4 L749.0,844.1 L751.0,844.2 L753.0,845.3 L755.0,844.7 L757.0,843.9 L759.0,843.9 L761.0,844.4 L763.0,843.0 L765.0,843.5 L767.0,844.5 L769.0,845.6 L771.0,843.4 L773.0,843.6 L775.0,843.8 L777.0,844.9 L778.0,843.6" fill="none" stroke="#3AB44A" stroke-width="2.9" stroke-linecap="round" stroke-linejoin="round" />
<path d="M95.0,685.4 L97.0,685.1 L99.0,684.9 L101.0,684.7 L103.0,684.5 L105.0,685.3 L107.0,683.7 L109.0,684.1 L111.0,684.1 L113.0,684.7 L115.0,684.9 L117.0,683.5 L119.0,684.0 L121.0,685.0 L123.0,684.6 L125.0,684.3 L127.0,685.9 L129.0,685.7 L131.0,685.7 L133.0,685.1 L135.0,686.0 L137.0,685.3 L139.0,686.1 L141.0,684.9 L143.0,684.9 L145.0,685.5 L147.0,685.0 L149.0,685.7 L151.0,685.3 L153.0,684.3 L155.0,684.5 L157.0,683.8 L159.0,684.1 L161.0,682.8 L163.0,682.5 L165.0,683.1 L167.0,683.5 L169.0,683.0 L171.0,681.6 L173.0,681.4 L175.0,681.9 L177.0,680.6 L179.0,679.8 L181.0,680.1 L183.0,680.0 L185.0,678.9 L187.0,678.0 L189.0,677.8 L191.0,678.7 L193.0,677.4 L195.0,677.3 L197.0,677.1 L199.0,676.8 L201.0,675.7 L203.0,675.5 L205.0,674.0 L207.0,673.5 L209.0,672.3 L211.0,672.7 L213.0,671.1 L215.0,669.8 L217.0,669.1 L219.0,668.3 L221.0,668.0 L223.0,665.6 L225.0,665.0 L227.0,664.3 L229.0,664.9 L231.0,662.7 L233.0,660.6 L235.0,659.4 L237.0,658.4 L239.0,655.2 L241.0,653.3 L243.0,652.6 L245.0,650.6 L247.0,649.3 L249.0,647.0 L251.0,646.8 L253.0,644.8 L255.0,642.2 L257.0,640.3 L259.0,636.7 L261.0,636.3 L263.0,633.9 L265.0,632.2 L267.0,630.3 L269.0,627.6 L271.0,624.5 L273.0,623.4 L275.0,620.6 L277.0,618.8 L279.0,616.8 L281.0,615.2 L283.0,612.2 L285.0,612.6 L287.0,610.2 L289.0,608.9 L291.0,607.6 L293.0,604.7 L295.0,601.8 L297.0,600.6 L299.0,598.6 L301.0,597.2 L303.0,595.7 L305.0,592.4 L307.0,591.7 L309.0,588.6 L311.0,587.8 L313.0,585.8 L315.0,584.1 L317.0,582.6 L319.0,580.8 L321.0,579.3 L323.0,577.2 L325.0,576.8 L327.0,576.6 L329.0,575.5 L331.0,574.0 L333.0,572.6 L335.0,570.8 L337.0,571.2 L339.0,569.5 L341.0,568.7 L343.0,568.0 L345.0,567.9 L347.0,567.8 L349.0,567.8 L351.0,567.8 L353.0,567.8 L355.0,567.8 L357.0,568.2 L359.0,568.8 L361.0,569.6 L363.0,570.4 L365.0,571.4 L367.0,572.6 L369.0,573.9 L371.0,575.2 L373.0,576.5 L375.0,577.8 L377.0,579.2 L379.0,580.7 L381.0,582.3 L383.0,584.1 L385.0,586.1 L387.0,588.2 L389.0,590.4 L391.0,592.8 L393.0,595.4 L395.0,598.1 L397.0,600.8 L399.0,603.4 L401.0,605.9 L403.0,608.5 L405.0,611.2 L407.0,614.1 L409.0,617.3 L411.0,620.8 L413.0,624.4 L415.0,627.9 L417.0,631.4 L419.0,634.9 L421.0,638.6 L423.0,642.6 L425.0,646.7 L427.0,650.7 L429.0,654.1 L431.0,657.0 L433.0,659.9 L435.0,663.0 L437.0,666.4 L439.0,669.9 L441.0,673.5 L443.0,677.0 L445.0,680.5 L447.0,684.0 L449.0,687.5 L451.0,690.9 L453.0,694.4 L455.0,697.9 L457.0,701.7 L459.0,705.7 L461.0,709.9 L463.0,713.9 L465.0,717.7 L467.0,721.2 L469.0,724.7 L471.0,728.0 L473.0,731.3 L475.0,734.6 L477.0,737.7 L479.0,740.9 L481.0,744.1 L483.0,747.3 L485.0,750.5 L487.0,753.8 L489.0,757.0 L491.0,760.2 L493.0,763.4 L495.0,766.6 L497.0,769.8 L499.0,773.0 L501.0,776.2 L503.0,779.5 L505.0,782.7 L507.0,785.8 L509.0,788.8 L511.0,791.7 L513.0,794.5 L515.0,797.2 L517.0,799.8 L519.0,802.3 L521.0,804.8 L523.0,807.1 L525.0,809.4 L527.0,811.5 L529.0,813.6 L531.0,815.5 L533.0,817.4 L535.0,819.2 L537.0,820.9 L539.0,822.5 L541.0,823.8 L543.0,825.4 L545.0,826.0 L547.0,827.6 L549.0,830.3 L551.0,830.0 L553.0,831.1 L555.0,832.8 L557.0,834.1 L559.0,834.1 L561.0,835.7 L563.0,837.5 L565.0,838.1 L567.0,838.9 L569.0,840.5 L571.0,839.8 L573.0,840.9 L575.0,841.0 L577.0,842.7 L579.0,841.1 L581.0,842.2 L583.0,842.7 L585.0,843.7 L587.0,844.0 L589.0,844.8 L591.0,843.3 L593.0,844.9 L595.0,844.5 L597.0,844.4 L599.0,845.3 L601.0,844.6 L603.0,844.0 L605.0,845.1 L607.0,844.5 L609.0,845.1 L611.0,845.8 L613.0,845.9 L615.0,846.7 L617.0,845.7 L619.0,845.0 L621.0,845.5 L623.0,845.5 L625.0,845.3 L627.0,846.4 L629.0,845.8 L631.0,845.1 L633.0,846.7 L635.0,846.3 L637.0,846.6 L639.0,846.5 L641.0,846.9 L643.0,846.6 L645.0,847.4 L647.0,846.9 L649.0,846.9 L651.0,847.0 L653.0,845.9 L655.0,846.7 L657.0,846.7 L659.0,847.0 L661.0,846.1 L663.0,847.9 L665.0,847.0 L667.0,846.3 L669.0,846.0 L671.0,846.9 L673.0,847.0 L675.0,846.7 L677.0,847.2 L679.0,846.8 L681.0,847.5 L683.0,846.8 L685.0,847.2 L687.0,847.8 L689.0,848.8 L691.0,846.7 L693.0,847.0 L695.0,846.8 L697.0,847.8 L699.0,846.7 L701.0,847.1 L703.0,847.4 L705.0,846.8 L707.0,846.8 L709.0,847.1 L711.0,846.1 L713.0,846.5 L715.0,847.2 L717.0,847.5 L719.0,847.3 L721.0,846.4 L723.0,847.2 L725.0,847.9 L727.0,847.8 L729.0,847.4 L731.0,846.9 L733.0,847.8 L735.0,847.1 L737.0,846.8 L739.0,847.0 L741.0,848.3 L743.0,847.6 L745.0,848.2 L747.0,847.2 L749.0,848.0 L751.0,847.1 L753.0,847.4 L755.0,849.0 L757.0,847.9 L759.0,847.2 L761.0,847.4 L763.0,847.7 L765.0,848.2 L767.0,847.2 L769.0,846.5 L771.0,847.3 L773.0,847.5 L775.0,847.6 L777.0,848.3 L778.0,847.7" fill="none" stroke="#EC1C24" stroke-width="2.9" stroke-linecap="round" stroke-linejoin="round" />
</g>
<text x="785.81" y="502.08" font-size="44" fill="#000" >(c)</text>
<rect x="912.8" y="507.6" width="435.70000000000005" height="341.6" fill="none" stroke="#231F20" stroke-width="2.4"/>
<line x1="905.10" y1="837.90" x2="912.80" y2="837.90" stroke="#231F20" stroke-width="2.4" stroke-linecap="butt" />
<text x="880.84" y="843.66" font-size="24" fill="#231F20" >0</text>
<line x1="909.20" y1="812.53" x2="912.80" y2="812.53" stroke="#231F20" stroke-width="2.4" stroke-linecap="butt" />
<line x1="905.10" y1="787.17" x2="912.80" y2="787.17" stroke="#231F20" stroke-width="2.4" stroke-linecap="butt" />
<text x="848.09" y="792.93" font-size="24" fill="#231F20" >1000</text>
<line x1="909.20" y1="761.80" x2="912.80" y2="761.80" stroke="#231F20" stroke-width="2.4" stroke-linecap="butt" />
<line x1="905.10" y1="736.43" x2="912.80" y2="736.43" stroke="#231F20" stroke-width="2.4" stroke-linecap="butt" />
<text x="848.09" y="742.20" font-size="24" fill="#231F20" >2000</text>
<line x1="909.20" y1="711.07" x2="912.80" y2="711.07" stroke="#231F20" stroke-width="2.4" stroke-linecap="butt" />
<line x1="905.10" y1="685.70" x2="912.80" y2="685.70" stroke="#231F20" stroke-width="2.4" stroke-linecap="butt" />
<text x="848.09" y="691.45" font-size="24" fill="#231F20" >3000</text>
<line x1="909.20" y1="660.33" x2="912.80" y2="660.33" stroke="#231F20" stroke-width="2.4" stroke-linecap="butt" />
<line x1="905.10" y1="634.97" x2="912.80" y2="634.97" stroke="#231F20" stroke-width="2.4" stroke-linecap="butt" />
<text x="848.09" y="640.73" font-size="24" fill="#231F20" >4000</text>
<line x1="909.20" y1="609.60" x2="912.80" y2="609.60" stroke="#231F20" stroke-width="2.4" stroke-linecap="butt" />
<line x1="905.10" y1="584.24" x2="912.80" y2="584.24" stroke="#231F20" stroke-width="2.4" stroke-linecap="butt" />
<text x="848.09" y="590.00" font-size="24" fill="#231F20" >5000</text>
<line x1="909.20" y1="558.87" x2="912.80" y2="558.87" stroke="#231F20" stroke-width="2.4" stroke-linecap="butt" />
<line x1="905.10" y1="533.50" x2="912.80" y2="533.50" stroke="#231F20" stroke-width="2.4" stroke-linecap="butt" />
<text x="848.09" y="539.26" font-size="24" fill="#231F20" >6000</text>
<line x1="909.20" y1="508.14" x2="912.80" y2="508.14" stroke="#231F20" stroke-width="2.4" stroke-linecap="butt" />
<line x1="912.70" y1="849.20" x2="912.70" y2="855.20" stroke="#231F20" stroke-width="2.4" stroke-linecap="butt" />
<text x="906.04" y="878.56" font-size="24" fill="#231F20" >0</text>
<line x1="952.31" y1="849.20" x2="952.31" y2="852.70" stroke="#231F20" stroke-width="2.4" stroke-linecap="butt" />
<line x1="991.92" y1="849.20" x2="991.92" y2="855.20" stroke="#231F20" stroke-width="2.4" stroke-linecap="butt" />
<text x="984.82" y="878.31" font-size="24" fill="#231F20" >1</text>
<line x1="1031.53" y1="849.20" x2="1031.53" y2="852.70" stroke="#231F20" stroke-width="2.4" stroke-linecap="butt" />
<line x1="1071.14" y1="849.20" x2="1071.14" y2="855.20" stroke="#231F20" stroke-width="2.4" stroke-linecap="butt" />
<text x="1064.53" y="878.56" font-size="24" fill="#231F20" >2</text>
<line x1="1110.75" y1="849.20" x2="1110.75" y2="852.70" stroke="#231F20" stroke-width="2.4" stroke-linecap="butt" />
<line x1="1150.36" y1="849.20" x2="1150.36" y2="855.20" stroke="#231F20" stroke-width="2.4" stroke-linecap="butt" />
<text x="1143.84" y="878.56" font-size="24" fill="#231F20" >3</text>
<line x1="1189.97" y1="849.20" x2="1189.97" y2="852.70" stroke="#231F20" stroke-width="2.4" stroke-linecap="butt" />
<line x1="1229.58" y1="849.20" x2="1229.58" y2="855.20" stroke="#231F20" stroke-width="2.4" stroke-linecap="butt" />
<text x="1222.79" y="878.31" font-size="24" fill="#231F20" >4</text>
<line x1="1269.19" y1="849.20" x2="1269.19" y2="852.70" stroke="#231F20" stroke-width="2.4" stroke-linecap="butt" />
<line x1="1308.80" y1="849.20" x2="1308.80" y2="855.20" stroke="#231F20" stroke-width="2.4" stroke-linecap="butt" />
<text x="1302.09" y="878.31" font-size="24" fill="#231F20" >5</text>
<line x1="1348.41" y1="849.20" x2="1348.41" y2="852.70" stroke="#231F20" stroke-width="2.4" stroke-linecap="butt" />
<text x="1060.45" y="914.23" font-size="31.5" fill="#231F20" >Time (min)</text>
<text transform="translate(828.1,792.0) rotate(-90)" x="-2.00" y="0" font-size="29.85" fill="#231F20">Intensity (a. u.)</text>
<line x1="923.40" y1="524.40" x2="970.30" y2="524.40" stroke="#231F20" stroke-width="2.2" stroke-linecap="butt" />
<rect x="941.30" y="518.70" width="11.4" height="11.4" fill="#231F20"/>
<line x1="923.40" y1="550.60" x2="970.30" y2="550.60" stroke="#21A5E0" stroke-width="2.2" stroke-linecap="butt" />
<circle cx="947.00" cy="550.60" r="6.4" fill="#21A5E0"/>
<line x1="923.40" y1="577.00" x2="970.30" y2="577.00" stroke="#3AB44A" stroke-width="2.2" stroke-linecap="butt" />
<polygon points="939.8,571.6 954.2,571.6 947,585.6" fill="#3AB44A"/>
<line x1="923.40" y1="604.20" x2="970.30" y2="604.20" stroke="#EC1C24" stroke-width="2.2" stroke-linecap="butt" />
<polygon points="947,597.2 954.4,610.2 939.6,610.2" fill="#EC1C24"/>
<text x="975.96" y="531.98" font-size="21.5" fill="#231F20" >Blank</text>
<text transform="translate(975.96,558.58) scale(1,1.04)" font-size="21.5" fill="#231F20" >PFP</text>
<text transform="translate(975.96,584.98) scale(1,1.04)" font-size="21.5" fill="#231F20" >PMNT</text>
<text transform="translate(975.96,612.18) scale(1,1.04)" font-size="21.5" fill="#231F20" >PPV</text>
<polyline points="912.70,837.70 991.92,837.10 1071.14,836.80 1150.36,835.50 1229.58,834.30 1308.80,833.20" fill="none" stroke="#231F20" stroke-width="2.2" stroke-linejoin="round" stroke-linecap="round"/>
<polyline points="912.70,837.70 991.92,818.50 1071.14,800.80 1150.36,782.70 1229.58,764.50 1308.80,747.60" fill="none" stroke="#3AB44A" stroke-width="2.2" stroke-linejoin="round" stroke-linecap="round"/>
<path d="M912.7,839.7 L914.2,835.6 L915.7,831.4 L917.2,827.4 L918.7,823.3 L920.2,819.3 L921.7,815.4 L923.2,811.5 L924.7,807.6 L926.2,803.8 L927.7,800.0 L929.2,796.2 L930.7,792.5 L932.2,788.9 L933.7,785.3 L935.2,781.7 L936.7,778.2 L938.2,774.7 L939.7,771.2 L941.2,767.8 L942.7,764.4 L944.2,761.1 L945.7,757.8 L947.2,754.6 L948.7,751.4 L950.2,748.2 L951.7,745.1 L953.2,742.0 L954.7,738.9 L956.2,735.9 L957.7,733.0 L959.2,730.0 L960.7,727.1 L962.2,724.3 L963.7,721.5 L965.2,718.7 L966.7,716.0 L968.2,713.3 L969.7,710.7 L971.2,708.1 L972.7,705.5 L974.2,703.0 L975.7,700.5 L977.2,698.0 L978.7,695.6 L980.2,693.2 L981.7,690.9 L983.2,688.6 L984.7,686.3 L986.2,684.1 L987.7,681.9 L989.2,679.8 L990.7,677.7 L992.2,675.6 L993.7,673.6 L995.2,671.6 L996.7,669.6 L998.2,667.7 L999.7,665.8 L1001.2,664.0 L1002.7,662.2 L1004.2,660.4 L1005.7,658.7 L1007.2,657.0 L1008.7,655.3 L1010.2,653.7 L1011.7,652.1 L1013.2,650.5 L1014.7,649.0 L1016.2,647.5 L1017.7,646.1 L1019.2,644.6 L1020.7,643.3 L1022.2,641.9 L1023.7,640.6 L1025.2,639.3 L1026.7,638.0 L1028.2,636.8 L1029.7,635.6 L1031.2,634.4 L1032.7,633.3 L1034.2,632.2 L1035.7,631.1 L1037.2,630.0 L1038.7,629.0 L1040.2,628.0 L1041.7,627.1 L1043.2,626.1 L1044.7,625.2 L1046.2,624.3 L1047.7,623.5 L1049.2,622.6 L1050.7,621.8 L1052.2,621.1 L1053.7,620.3 L1055.2,619.6 L1056.7,618.9 L1058.2,618.2 L1059.7,617.5 L1061.2,616.9 L1062.7,616.3 L1064.2,615.7 L1065.7,615.1 L1067.2,614.6 L1068.7,614.0 L1070.2,613.5 L1071.7,613.0 L1073.2,612.6 L1074.7,612.1 L1076.2,611.7 L1077.7,611.3 L1079.2,610.9 L1080.7,610.5 L1082.2,610.2 L1083.7,609.9 L1085.2,609.5 L1086.7,609.2 L1088.2,609.0 L1089.7,608.7 L1091.2,608.4 L1092.7,608.2 L1094.2,608.0 L1095.7,607.8 L1097.2,607.6 L1098.7,607.4 L1100.2,607.3 L1101.7,607.1 L1103.2,607.0 L1104.7,606.8 L1106.2,606.7 L1107.7,606.6 L1109.2,606.5 L1110.7,606.5 L1112.2,606.4 L1113.7,606.3 L1115.2,606.3 L1116.7,606.3 L1118.2,606.2 L1119.7,606.2 L1121.2,606.2 L1122.7,606.2 L1124.2,606.2 L1125.7,606.2 L1127.2,606.2 L1128.7,606.3 L1130.2,606.3 L1131.7,606.3 L1133.2,606.4 L1134.7,606.4 L1136.2,606.5 L1137.7,606.5 L1139.2,606.6 L1140.7,606.7 L1142.2,606.7 L1143.7,606.8 L1145.2,606.9 L1146.7,606.9 L1148.2,607.0 L1149.7,607.1 L1151.2,607.2 L1152.7,607.3 L1154.2,607.3 L1155.7,607.4 L1157.2,607.5 L1158.7,607.6 L1160.2,607.7 L1161.7,607.7 L1163.2,607.8 L1164.7,607.9 L1166.2,608.0 L1167.7,608.0 L1169.2,608.1 L1170.7,608.2 L1172.2,608.3 L1173.7,608.3 L1175.2,608.4 L1176.7,608.5 L1178.2,608.5 L1179.7,608.6 L1181.2,608.7 L1182.7,608.7 L1184.2,608.8 L1185.7,608.9 L1187.2,608.9 L1188.7,609.0 L1190.2,609.0 L1191.7,609.1 L1193.2,609.1 L1194.7,609.2 L1196.2,609.2 L1197.7,609.3 L1199.2,609.3 L1200.7,609.4 L1202.2,609.4 L1203.7,609.5 L1205.2,609.5 L1206.7,609.6 L1208.2,609.6 L1209.7,609.6 L1211.2,609.7 L1212.7,609.7 L1214.2,609.7 L1215.7,609.8 L1217.2,609.8 L1218.7,609.8 L1220.2,609.8 L1221.7,609.8 L1223.2,609.9 L1224.7,609.9 L1226.2,609.9 L1227.7,609.9 L1229.2,609.9 L1230.7,609.9 L1232.2,609.9 L1233.7,609.9 L1235.2,609.9 L1236.7,609.9 L1238.2,609.9 L1239.7,609.9 L1241.2,609.9 L1242.7,609.9 L1244.2,609.9 L1245.7,609.8 L1247.2,609.8 L1248.7,609.8 L1250.2,609.8 L1251.7,609.7 L1253.2,609.7 L1254.7,609.7 L1256.2,609.6 L1257.7,609.6 L1259.2,609.5 L1260.7,609.5 L1262.2,609.4 L1263.7,609.4 L1265.2,609.3 L1266.7,609.3 L1268.2,609.2 L1269.7,609.1 L1271.2,609.0 L1272.7,609.0 L1274.2,608.9 L1275.7,608.8 L1277.2,608.7 L1278.7,608.6 L1280.2,608.5 L1281.7,608.4 L1283.2,608.3 L1284.7,608.2 L1286.2,608.1 L1287.7,608.0 L1289.2,607.9 L1290.7,607.8 L1292.2,607.7 L1293.7,607.5 L1295.2,607.4 L1296.7,607.3 L1298.2,607.1 L1299.7,607.0 L1301.2,606.8 L1302.7,606.7 L1304.2,606.5 L1305.7,606.4 L1307.2,606.2 L1308.7,606.0 L1308.8,606.0" fill="none" stroke="#21A5E0" stroke-width="2.2" stroke-linecap="round" stroke-linejoin="round" />
<path d="M912.7,838.6 L914.2,835.7 L915.7,832.8 L917.2,829.9 L918.7,826.9 L920.2,824.0 L921.7,821.1 L923.2,818.1 L924.7,815.2 L926.2,812.2 L927.7,809.2 L929.2,806.3 L930.7,803.3 L932.2,800.4 L933.7,797.4 L935.2,794.4 L936.7,791.5 L938.2,788.5 L939.7,785.6 L941.2,782.6 L942.7,779.7 L944.2,776.8 L945.7,773.8 L947.2,770.9 L948.7,768.0 L950.2,765.1 L951.7,762.2 L953.2,759.3 L954.7,756.4 L956.2,753.6 L957.7,750.7 L959.2,747.9 L960.7,745.1 L962.2,742.3 L963.7,739.5 L965.2,736.7 L966.7,733.9 L968.2,731.2 L969.7,728.4 L971.2,725.7 L972.7,723.0 L974.2,720.3 L975.7,717.7 L977.2,715.0 L978.7,712.4 L980.2,709.8 L981.7,707.2 L983.2,704.6 L984.7,702.0 L986.2,699.5 L987.7,697.0 L989.2,694.5 L990.7,692.0 L992.2,689.6 L993.7,687.1 L995.2,684.7 L996.7,682.3 L998.2,680.0 L999.7,677.6 L1001.2,675.3 L1002.7,673.0 L1004.2,670.7 L1005.7,668.5 L1007.2,666.3 L1008.7,664.1 L1010.2,661.9 L1011.7,659.7 L1013.2,657.6 L1014.7,655.5 L1016.2,653.4 L1017.7,651.4 L1019.2,649.4 L1020.7,647.4 L1022.2,645.4 L1023.7,643.5 L1025.2,641.5 L1026.7,639.6 L1028.2,637.8 L1029.7,635.9 L1031.2,634.1 L1032.7,632.4 L1034.2,630.6 L1035.7,628.9 L1037.2,627.2 L1038.7,625.5 L1040.2,623.9 L1041.7,622.3 L1043.2,620.7 L1044.7,619.1 L1046.2,617.6 L1047.7,616.1 L1049.2,614.6 L1050.7,613.2 L1052.2,611.8 L1053.7,610.4 L1055.2,609.0 L1056.7,607.7 L1058.2,606.4 L1059.7,605.1 L1061.2,603.9 L1062.7,602.7 L1064.2,601.5 L1065.7,600.3 L1067.2,599.2 L1068.7,598.0 L1070.2,596.9 L1071.7,595.9 L1073.2,594.8 L1074.7,593.8 L1076.2,592.8 L1077.7,591.8 L1079.2,590.9 L1080.7,589.9 L1082.2,589.0 L1083.7,588.1 L1085.2,587.3 L1086.7,586.4 L1088.2,585.6 L1089.7,584.8 L1091.2,584.0 L1092.7,583.3 L1094.2,582.5 L1095.7,581.8 L1097.2,581.1 L1098.7,580.4 L1100.2,579.7 L1101.7,579.1 L1103.2,578.5 L1104.7,577.9 L1106.2,577.3 L1107.7,576.7 L1109.2,576.1 L1110.7,575.6 L1112.2,575.1 L1113.7,574.6 L1115.2,574.1 L1116.7,573.6 L1118.2,573.2 L1119.7,572.7 L1121.2,572.3 L1122.7,571.9 L1124.2,571.5 L1125.7,571.1 L1127.2,570.7 L1128.7,570.4 L1130.2,570.0 L1131.7,569.7 L1133.2,569.4 L1134.7,569.1 L1136.2,568.8 L1137.7,568.5 L1139.2,568.2 L1140.7,568.0 L1142.2,567.7 L1143.7,567.5 L1145.2,567.2 L1146.7,567.0 L1148.2,566.8 L1149.7,566.6 L1151.2,566.4 L1152.7,566.3 L1154.2,566.1 L1155.7,565.9 L1157.2,565.8 L1158.7,565.6 L1160.2,565.6 L1161.7,565.5 L1163.2,565.4 L1164.7,565.4 L1166.2,565.3 L1167.7,565.2 L1169.2,565.2 L1170.7,565.1 L1172.2,565.1 L1173.7,565.0 L1175.2,564.9 L1176.7,564.9 L1178.2,564.8 L1179.7,564.8 L1181.2,564.7 L1182.7,564.7 L1184.2,564.6 L1185.7,564.5 L1187.2,564.5 L1188.7,564.4 L1190.2,564.4 L1191.7,564.3 L1193.2,564.3 L1194.7,564.2 L1196.2,564.2 L1197.7,564.1 L1199.2,564.1 L1200.7,564.0 L1202.2,564.0 L1203.7,563.9 L1205.2,563.9 L1206.7,563.9 L1208.2,563.8 L1209.7,563.8 L1211.2,563.7 L1212.7,563.7 L1214.2,563.6 L1215.7,563.6 L1217.2,563.5 L1218.7,563.5 L1220.2,563.5 L1221.7,563.4 L1223.2,563.4 L1224.7,563.3 L1226.2,563.3 L1227.7,563.3 L1229.2,563.2 L1230.7,563.2 L1232.2,563.1 L1233.7,563.1 L1235.2,563.1 L1236.7,563.0 L1238.2,563.0 L1239.7,563.0 L1241.2,563.0 L1242.7,562.9 L1244.2,562.9 L1245.7,562.9 L1247.2,562.8 L1248.7,562.8 L1250.2,562.8 L1251.7,562.7 L1253.2,562.7 L1254.7,562.7 L1256.2,562.7 L1257.7,562.6 L1259.2,562.6 L1260.7,562.6 L1262.2,562.6 L1263.7,562.5 L1265.2,562.5 L1266.7,562.5 L1268.2,562.4 L1269.7,562.4 L1271.2,562.4 L1272.7,562.3 L1274.2,562.3 L1275.7,562.3 L1277.2,562.3 L1278.7,562.2 L1280.2,562.2 L1281.7,562.2 L1283.2,562.1 L1284.7,562.1 L1286.2,562.1 L1287.7,562.0 L1289.2,562.0 L1290.7,562.0 L1292.2,561.9 L1293.7,561.9 L1295.2,561.9 L1296.7,561.9 L1298.2,561.8 L1299.7,561.8 L1301.2,561.8 L1302.7,561.7 L1304.2,561.7 L1305.7,561.7 L1307.2,561.6 L1308.7,561.6 L1308.8,561.6" fill="none" stroke="#EC1C24" stroke-width="2.2" stroke-linecap="round" stroke-linejoin="round" />
<line x1="991.92" y1="641.30" x2="991.92" y2="661.10" stroke="#21A5E0" stroke-width="2.2" stroke-linecap="butt" />
<line x1="987.42" y1="641.30" x2="996.42" y2="641.30" stroke="#21A5E0" stroke-width="2.2" stroke-linecap="butt" />
<line x1="987.42" y1="661.10" x2="996.42" y2="661.10" stroke="#21A5E0" stroke-width="2.2" stroke-linecap="butt" />
<line x1="991.92" y1="673.90" x2="991.92" y2="691.00" stroke="#EC1C24" stroke-width="2.2" stroke-linecap="butt" />
<line x1="987.42" y1="673.90" x2="996.42" y2="673.90" stroke="#EC1C24" stroke-width="2.2" stroke-linecap="butt" />
<line x1="987.42" y1="691.00" x2="996.42" y2="691.00" stroke="#EC1C24" stroke-width="2.2" stroke-linecap="butt" />
<line x1="1071.14" y1="595.60" x2="1071.14" y2="621.60" stroke="#21A5E0" stroke-width="2.2" stroke-linecap="butt" />
<line x1="1066.64" y1="595.60" x2="1075.64" y2="595.60" stroke="#21A5E0" stroke-width="2.2" stroke-linecap="butt" />
<line x1="1066.64" y1="621.60" x2="1075.64" y2="621.60" stroke="#21A5E0" stroke-width="2.2" stroke-linecap="butt" />
<line x1="1071.14" y1="580.30" x2="1071.14" y2="592.00" stroke="#EC1C24" stroke-width="2.2" stroke-linecap="butt" />
<line x1="1066.64" y1="580.30" x2="1075.64" y2="580.30" stroke="#EC1C24" stroke-width="2.2" stroke-linecap="butt" />
<line x1="1066.64" y1="592.00" x2="1075.64" y2="592.00" stroke="#EC1C24" stroke-width="2.2" stroke-linecap="butt" />
<line x1="1150.36" y1="603.00" x2="1150.36" y2="610.00" stroke="#21A5E0" stroke-width="2.2" stroke-linecap="butt" />
<line x1="1145.86" y1="603.00" x2="1154.86" y2="603.00" stroke="#21A5E0" stroke-width="2.2" stroke-linecap="butt" />
<line x1="1145.86" y1="610.00" x2="1154.86" y2="610.00" stroke="#21A5E0" stroke-width="2.2" stroke-linecap="butt" />
<line x1="1150.36" y1="556.80" x2="1150.36" y2="571.30" stroke="#EC1C24" stroke-width="2.2" stroke-linecap="butt" />
<line x1="1145.86" y1="556.80" x2="1154.86" y2="556.80" stroke="#EC1C24" stroke-width="2.2" stroke-linecap="butt" />
<line x1="1145.86" y1="571.30" x2="1154.86" y2="571.30" stroke="#EC1C24" stroke-width="2.2" stroke-linecap="butt" />
<line x1="1229.58" y1="600.70" x2="1229.58" y2="621.10" stroke="#21A5E0" stroke-width="2.2" stroke-linecap="butt" />
<line x1="1225.08" y1="600.70" x2="1234.08" y2="600.70" stroke="#21A5E0" stroke-width="2.2" stroke-linecap="butt" />
<line x1="1225.08" y1="621.10" x2="1234.08" y2="621.10" stroke="#21A5E0" stroke-width="2.2" stroke-linecap="butt" />
<line x1="1229.58" y1="549.60" x2="1229.58" y2="578.80" stroke="#EC1C24" stroke-width="2.2" stroke-linecap="butt" />
<line x1="1225.08" y1="549.60" x2="1234.08" y2="549.60" stroke="#EC1C24" stroke-width="2.2" stroke-linecap="butt" />
<line x1="1225.08" y1="578.80" x2="1234.08" y2="578.80" stroke="#EC1C24" stroke-width="2.2" stroke-linecap="butt" />
<line x1="1308.80" y1="594.50" x2="1308.80" y2="619.90" stroke="#21A5E0" stroke-width="2.2" stroke-linecap="butt" />
<line x1="1304.30" y1="594.50" x2="1313.30" y2="594.50" stroke="#21A5E0" stroke-width="2.2" stroke-linecap="butt" />
<line x1="1304.30" y1="619.90" x2="1313.30" y2="619.90" stroke="#21A5E0" stroke-width="2.2" stroke-linecap="butt" />
<line x1="1308.80" y1="549.60" x2="1308.80" y2="574.00" stroke="#EC1C24" stroke-width="2.2" stroke-linecap="butt" />
<line x1="1304.30" y1="549.60" x2="1313.30" y2="549.60" stroke="#EC1C24" stroke-width="2.2" stroke-linecap="butt" />
<line x1="1304.30" y1="574.00" x2="1313.30" y2="574.00" stroke="#EC1C24" stroke-width="2.2" stroke-linecap="butt" />
<line x1="991.92" y1="814.50" x2="991.92" y2="810.00" stroke="#3AB44A" stroke-width="2.2" stroke-linecap="round" />
<line x1="1071.14" y1="796.80" x2="1071.14" y2="792.30" stroke="#3AB44A" stroke-width="2.2" stroke-linecap="round" />
<line x1="1150.36" y1="778.70" x2="1150.36" y2="774.20" stroke="#3AB44A" stroke-width="2.2" stroke-linecap="round" />
<line x1="1229.58" y1="760.50" x2="1229.58" y2="756.00" stroke="#3AB44A" stroke-width="2.2" stroke-linecap="round" />
<line x1="1308.80" y1="743.60" x2="1308.80" y2="739.10" stroke="#3AB44A" stroke-width="2.2" stroke-linecap="round" />
<rect x="907.10" y="832.10" width="11.2" height="11.2" fill="#231F20"/>
<rect x="986.32" y="831.50" width="11.2" height="11.2" fill="#231F20"/>
<rect x="1065.54" y="831.20" width="11.2" height="11.2" fill="#231F20"/>
<rect x="1144.76" y="829.90" width="11.2" height="11.2" fill="#231F20"/>
<rect x="1223.98" y="828.70" width="11.2" height="11.2" fill="#231F20"/>
<rect x="1303.20" y="827.60" width="11.2" height="11.2" fill="#231F20"/>
<circle cx="912.70" cy="837.70" r="6.2" fill="#21A5E0"/>
<circle cx="991.92" cy="651.10" r="6.2" fill="#21A5E0"/>
<circle cx="1071.14" cy="607.40" r="6.2" fill="#21A5E0"/>
<circle cx="1150.36" cy="606.50" r="6.2" fill="#21A5E0"/>
<circle cx="1229.58" cy="610.30" r="6.2" fill="#21A5E0"/>
<circle cx="1308.80" cy="606.60" r="6.2" fill="#21A5E0"/>
<polygon points="912.70,829.27 920.00,841.91 905.40,841.91" fill="#EC1C24"/>
<polygon points="991.92,674.17 999.22,686.81 984.62,686.81" fill="#EC1C24"/>
<polygon points="1071.14,578.57 1078.44,591.21 1063.84,591.21" fill="#EC1C24"/>
<polygon points="1150.36,557.57 1157.66,570.21 1143.06,570.21" fill="#EC1C24"/>
<polygon points="1229.58,554.77 1236.88,567.41 1222.28,567.41" fill="#EC1C24"/>
<polygon points="1308.80,553.17 1316.10,565.81 1301.50,565.81" fill="#EC1C24"/>
<polygon points="912.70,846.13 920.00,833.49 905.40,833.49" fill="#3AB44A"/>
<polygon points="991.92,826.93 999.22,814.29 984.62,814.29" fill="#3AB44A"/>
<polygon points="1071.14,809.23 1078.44,796.59 1063.84,796.59" fill="#3AB44A"/>
<polygon points="1150.36,791.13 1157.66,778.49 1143.06,778.49" fill="#3AB44A"/>
<polygon points="1229.58,772.93 1236.88,760.29 1222.28,760.29" fill="#3AB44A"/>
<polygon points="1308.80,756.03 1316.10,743.39 1301.50,743.39" fill="#3AB44A"/>
</svg>
</body></html>
